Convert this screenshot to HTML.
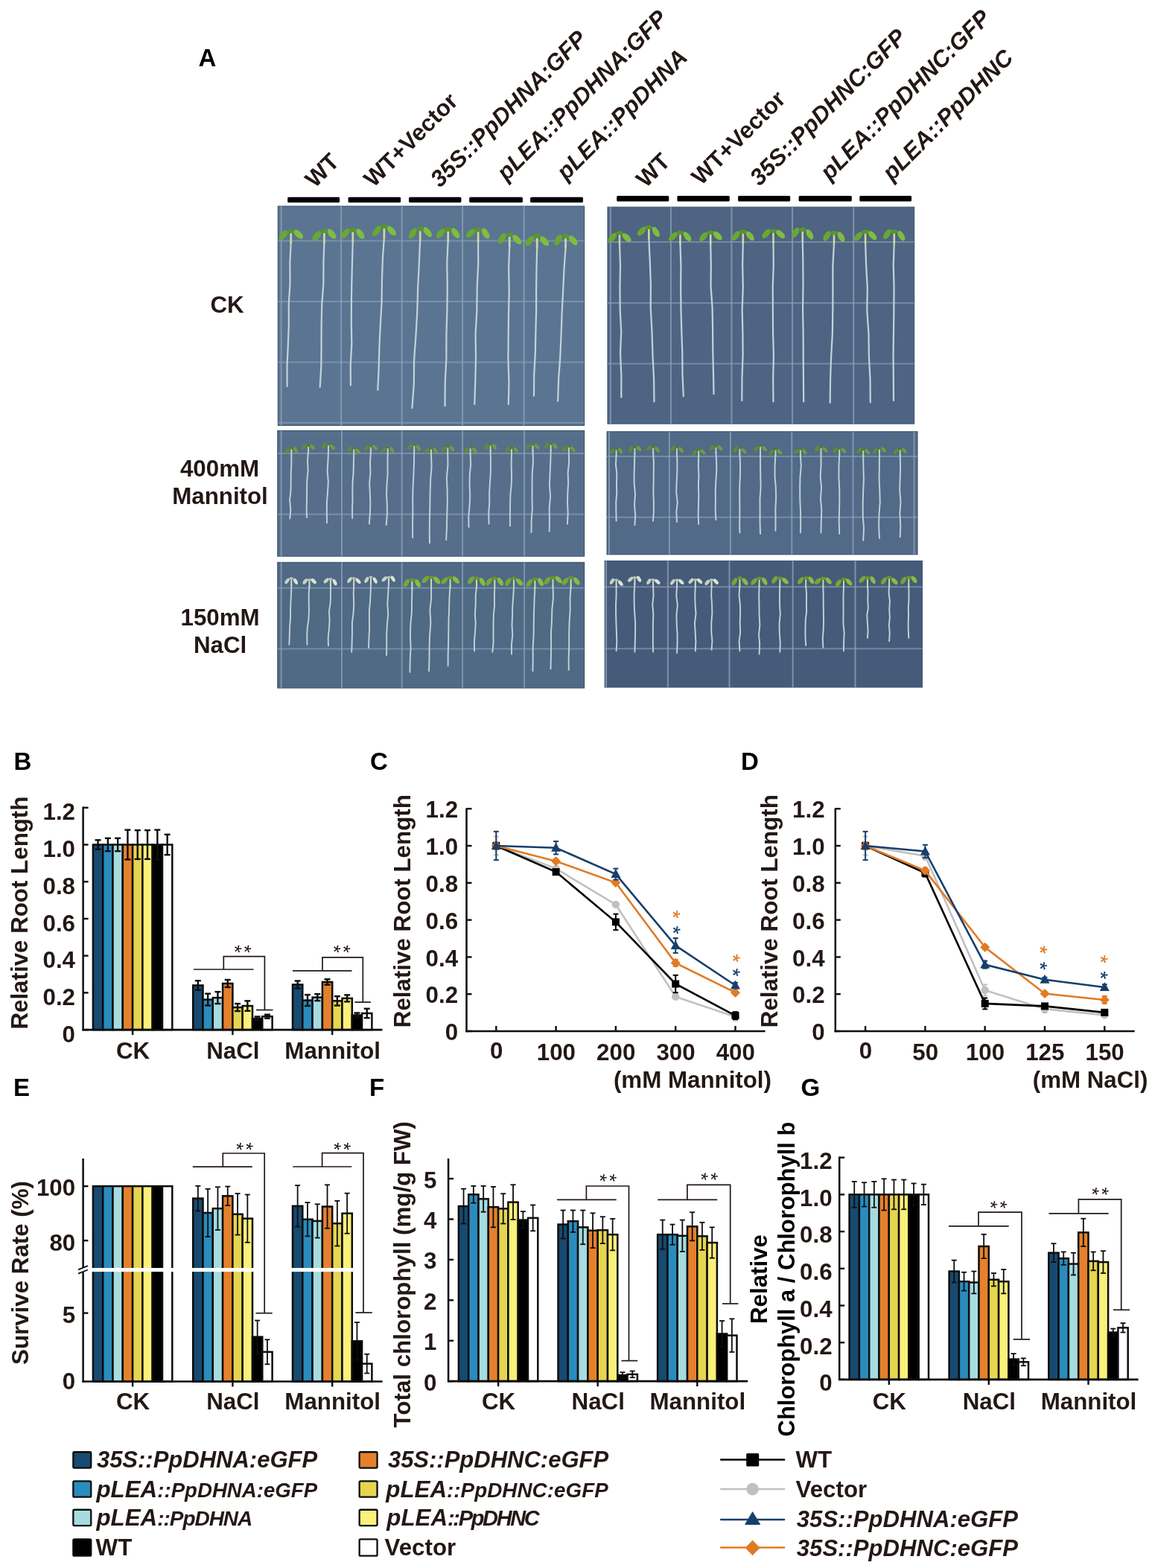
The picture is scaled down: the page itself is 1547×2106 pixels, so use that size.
<!DOCTYPE html><html><head><meta charset="utf-8"><title>Figure</title><style>html,body{margin:0;padding:0;background:#fff}svg{display:block}</style></head><body>
<svg width="1547" height="2106" viewBox="0 0 1547 2106" font-family="'Liberation Sans', Arial, sans-serif" font-weight="bold">
<rect width="1547" height="2106" fill="#ffffff"/>
<text x="266.5" y="88.8" font-size="33" text-anchor="start" fill="#000" >A</text>
<text x="422.8" y="253.5" font-size="31.3" text-anchor="start" fill="#231815" transform="rotate(-45 422.8 253.5)">WT</text>
<text x="501.6" y="252.8" font-size="31.3" text-anchor="start" fill="#231815" transform="rotate(-45 501.6 252.8)">WT+Vector</text>
<text x="590.7" y="253.1" font-size="31.3" text-anchor="start" font-style="italic" fill="#231815" transform="rotate(-45 590.7 253.1)">35S::PpDHNA:GFP</text>
<text x="680.1" y="244.2" font-size="31.3" text-anchor="start" font-style="italic" fill="#231815" transform="rotate(-45 680.1 244.2)">pLEA::PpDHNA:GFP</text>
<text x="760.3" y="243.5" font-size="31.3" text-anchor="start" font-style="italic" fill="#231815" transform="rotate(-45 760.3 243.5)">pLEA::PpDHNA</text>
<text x="867.3" y="253.2" font-size="31.3" text-anchor="start" fill="#231815" transform="rotate(-45 867.3 253.2)">WT</text>
<text x="941.6" y="249.9" font-size="31.3" text-anchor="start" fill="#231815" transform="rotate(-45 941.6 249.9)">WT+Vector</text>
<text x="1019.7" y="250.9" font-size="31.3" text-anchor="start" font-style="italic" fill="#231815" transform="rotate(-45 1019.7 250.9)">35S::PpDHNC:GFP</text>
<text x="1114.3" y="243.5" font-size="31.3" text-anchor="start" font-style="italic" fill="#231815" transform="rotate(-45 1114.3 243.5)">pLEA::PpDHNC:GFP</text>
<text x="1197.7" y="244.2" font-size="31.3" text-anchor="start" font-style="italic" fill="#231815" transform="rotate(-45 1197.7 244.2)">pLEA::PpDHNC</text>
<rect x="386.2" y="264.7" width="69.9" height="7.3" rx="1.5" fill="#000"/>
<rect x="467.6" y="264.7" width="70.5" height="7.3" rx="1.5" fill="#000"/>
<rect x="549.1" y="264.7" width="70.3" height="7.3" rx="1.5" fill="#000"/>
<rect x="630.2" y="264.7" width="71.7" height="7.3" rx="1.5" fill="#000"/>
<rect x="712.1" y="264.7" width="70.8" height="7.3" rx="1.5" fill="#000"/>
<rect x="828.2" y="263.1" width="70.1" height="7.3" rx="1.5" fill="#000"/>
<rect x="909.4" y="263.1" width="70.4" height="7.3" rx="1.5" fill="#000"/>
<rect x="991.1" y="263.1" width="70.1" height="7.3" rx="1.5" fill="#000"/>
<rect x="1072.6" y="263.1" width="71.2" height="7.3" rx="1.5" fill="#000"/>
<rect x="1154.3" y="263.1" width="69.8" height="7.3" rx="1.5" fill="#000"/>
<text x="305" y="420" font-size="31.3" text-anchor="middle" fill="#231815" >CK</text>
<text x="295" y="640.2" font-size="31.3" text-anchor="middle" fill="#231815" >400mM</text>
<text x="295.5" y="677.3" font-size="31.3" text-anchor="middle" fill="#231815" >Mannitol</text>
<text x="295.6" y="839.5" font-size="31.3" text-anchor="middle" fill="#231815" >150mM</text>
<text x="295.6" y="876.7" font-size="31.3" text-anchor="middle" fill="#231815" >NaCl</text>
<rect x="373.4" y="277" width="411.2" height="294.4" fill="#5b7491" stroke="#3f5876" stroke-width="1.2"/>
<line x1="377.6" y1="277" x2="377.6" y2="571.4" stroke="#8ea3ba" stroke-width="2.0" opacity="0.75"/>
<line x1="458.1" y1="277" x2="458.1" y2="571.4" stroke="#8ea3ba" stroke-width="2.0" opacity="0.75"/>
<line x1="539.7" y1="277" x2="539.7" y2="571.4" stroke="#8ea3ba" stroke-width="2.0" opacity="0.75"/>
<line x1="621.1" y1="277" x2="621.1" y2="571.4" stroke="#8ea3ba" stroke-width="2.0" opacity="0.75"/>
<line x1="703.6" y1="277" x2="703.6" y2="571.4" stroke="#8ea3ba" stroke-width="2.0" opacity="0.75"/>
<line x1="373.4" y1="323.4" x2="784.6" y2="323.4" stroke="#8ea3ba" stroke-width="2.0" opacity="0.6"/>
<line x1="373.4" y1="405" x2="784.6" y2="405" stroke="#8ea3ba" stroke-width="2.0" opacity="0.6"/>
<line x1="373.4" y1="486.6" x2="784.6" y2="486.6" stroke="#8ea3ba" stroke-width="2.0" opacity="0.6"/>
<line x1="373.4" y1="567.7" x2="784.6" y2="567.7" stroke="#8ea3ba" stroke-width="2.0" opacity="0.6"/>
<path d="M390.7,325.35 L389.34,352.98 L389.51,380.62 L387.74,408.26 L387.85,435.89 L386.82,463.53 L385.53,491.16 L385.6,518.8" fill="none" stroke="#c4d2dc" stroke-width="2.2" stroke-linecap="round" stroke-linejoin="round"/>
<line x1="390.7" y1="310.65" x2="390.7" y2="326.35" stroke="#cad99c" stroke-width="2.73" stroke-linecap="round"/>
<ellipse cx="380.72" cy="315.7" rx="7.88" ry="3.99" fill="#68a832" transform="rotate(-51.85 380.72 315.7)"/>
<ellipse cx="400.68" cy="314.61" rx="7.88" ry="3.99" fill="#80bd3f" transform="rotate(42.75 400.68 314.61)"/>
<ellipse cx="390.7" cy="310.65" rx="4.73" ry="2.94" fill="#5a962b"/>
<path d="M435.4,324.88 L434.45,352.7 L434.36,380.52 L432.28,408.33 L431.64,436.15 L431.56,463.97 L431.32,491.78 L429.7,519.6" fill="none" stroke="#c4d2dc" stroke-width="2.2" stroke-linecap="round" stroke-linejoin="round"/>
<line x1="435.4" y1="310.18" x2="435.4" y2="325.88" stroke="#cad99c" stroke-width="2.73" stroke-linecap="round"/>
<ellipse cx="425.42" cy="316.86" rx="7.88" ry="3.99" fill="#68a832" transform="rotate(-50.46 425.42 316.86)"/>
<ellipse cx="445.38" cy="314.07" rx="7.88" ry="3.99" fill="#80bd3f" transform="rotate(49.93 445.38 314.07)"/>
<ellipse cx="435.4" cy="310.18" rx="4.73" ry="2.94" fill="#5a962b"/>
<path d="M473.8,323.42 L473.01,351.13 L472.33,378.84 L471.87,406.55 L471.8,434.26 L472.3,461.98 L470.74,489.69 L470.9,517.4" fill="none" stroke="#c4d2dc" stroke-width="2.2" stroke-linecap="round" stroke-linejoin="round"/>
<line x1="473.8" y1="308.72" x2="473.8" y2="324.42" stroke="#cad99c" stroke-width="2.73" stroke-linecap="round"/>
<ellipse cx="463.82" cy="313.58" rx="7.88" ry="3.99" fill="#68a832" transform="rotate(-50.37 463.82 313.58)"/>
<ellipse cx="483.78" cy="314.11" rx="7.88" ry="3.99" fill="#80bd3f" transform="rotate(54.78 483.78 314.11)"/>
<ellipse cx="473.8" cy="308.72" rx="4.73" ry="2.94" fill="#5a962b"/>
<path d="M515.9,318.83 L513.88,348.08 L512.91,377.33 L512.54,406.59 L510.86,435.84 L509.42,465.09 L508.68,494.35 L507.3,523.6" fill="none" stroke="#c4d2dc" stroke-width="2.2" stroke-linecap="round" stroke-linejoin="round"/>
<line x1="515.9" y1="304.13" x2="515.9" y2="319.83" stroke="#cad99c" stroke-width="2.73" stroke-linecap="round"/>
<ellipse cx="505.92" cy="310.26" rx="7.88" ry="3.99" fill="#68a832" transform="rotate(-52.94 505.92 310.26)"/>
<ellipse cx="525.88" cy="309.97" rx="7.88" ry="3.99" fill="#80bd3f" transform="rotate(48 525.88 309.97)"/>
<ellipse cx="515.9" cy="304.13" rx="4.73" ry="2.94" fill="#5a962b"/>
<path d="M564.2,322.19 L562.79,354.45 L561.16,386.71 L560.25,418.96 L558.44,451.22 L556.1,483.48 L555.81,515.74 L553.4,548" fill="none" stroke="#c4d2dc" stroke-width="2.2" stroke-linecap="round" stroke-linejoin="round"/>
<line x1="564.2" y1="307.49" x2="564.2" y2="323.19" stroke="#cad99c" stroke-width="2.73" stroke-linecap="round"/>
<ellipse cx="554.23" cy="313.51" rx="7.88" ry="3.99" fill="#68a832" transform="rotate(-59.64 554.23 313.51)"/>
<ellipse cx="574.18" cy="311.69" rx="7.88" ry="3.99" fill="#80bd3f" transform="rotate(50.36 574.18 311.69)"/>
<ellipse cx="564.2" cy="307.49" rx="4.73" ry="2.94" fill="#5a962b"/>
<path d="M601.7,322.68 L600.27,354.47 L600.8,386.26 L600.38,418.04 L599.43,449.83 L599.38,481.62 L597.76,513.41 L597.5,545.2" fill="none" stroke="#c4d2dc" stroke-width="2.2" stroke-linecap="round" stroke-linejoin="round"/>
<line x1="601.7" y1="307.98" x2="601.7" y2="323.68" stroke="#cad99c" stroke-width="2.73" stroke-linecap="round"/>
<ellipse cx="591.73" cy="313.47" rx="7.88" ry="3.99" fill="#68a832" transform="rotate(-48.09 591.73 313.47)"/>
<ellipse cx="611.68" cy="313.1" rx="7.88" ry="3.99" fill="#80bd3f" transform="rotate(53.89 611.68 313.1)"/>
<ellipse cx="601.7" cy="307.98" rx="4.73" ry="2.94" fill="#5a962b"/>
<path d="M642.1,323.38 L642.21,354.75 L640.68,386.13 L640.34,417.5 L638.57,448.88 L639.03,480.25 L638.25,511.63 L637.3,543" fill="none" stroke="#c4d2dc" stroke-width="2.2" stroke-linecap="round" stroke-linejoin="round"/>
<line x1="642.1" y1="308.68" x2="642.1" y2="324.38" stroke="#cad99c" stroke-width="2.73" stroke-linecap="round"/>
<ellipse cx="632.12" cy="313.28" rx="7.88" ry="3.99" fill="#68a832" transform="rotate(-42.14 632.12 313.28)"/>
<ellipse cx="652.08" cy="313.59" rx="7.88" ry="3.99" fill="#80bd3f" transform="rotate(58.44 652.08 313.59)"/>
<ellipse cx="642.1" cy="308.68" rx="4.73" ry="2.94" fill="#5a962b"/>
<path d="M684.2,330.04 L683.14,360.46 L683.73,390.88 L683,421.31 L682.71,451.73 L682.41,482.15 L683.48,512.58 L682.8,543" fill="none" stroke="#c4d2dc" stroke-width="2.2" stroke-linecap="round" stroke-linejoin="round"/>
<line x1="684.2" y1="315.34" x2="684.2" y2="331.04" stroke="#cad99c" stroke-width="2.73" stroke-linecap="round"/>
<ellipse cx="674.23" cy="320.26" rx="7.88" ry="3.99" fill="#68a832" transform="rotate(-59.41 674.23 320.26)"/>
<ellipse cx="694.18" cy="321.7" rx="7.88" ry="3.99" fill="#80bd3f" transform="rotate(46.95 694.18 321.7)"/>
<ellipse cx="684.2" cy="315.34" rx="4.73" ry="2.94" fill="#5a962b"/>
<path d="M721.2,331.86 L720.51,360.4 L720.09,388.93 L720.09,417.46 L719.37,446 L718.86,474.53 L717.2,503.07 L717,531.6" fill="none" stroke="#c4d2dc" stroke-width="2.2" stroke-linecap="round" stroke-linejoin="round"/>
<line x1="721.2" y1="317.16" x2="721.2" y2="332.86" stroke="#cad99c" stroke-width="2.73" stroke-linecap="round"/>
<ellipse cx="711.23" cy="323.56" rx="7.88" ry="3.99" fill="#68a832" transform="rotate(-53.69 711.23 323.56)"/>
<ellipse cx="731.18" cy="323.78" rx="7.88" ry="3.99" fill="#80bd3f" transform="rotate(49.18 731.18 323.78)"/>
<ellipse cx="721.2" cy="317.16" rx="4.73" ry="2.94" fill="#5a962b"/>
<path d="M759.6,332 L757.52,361.53 L756.12,391.06 L754.62,420.59 L753.57,450.12 L752.26,479.64 L750.17,509.17 L749.1,538.7" fill="none" stroke="#c4d2dc" stroke-width="2.2" stroke-linecap="round" stroke-linejoin="round"/>
<line x1="759.6" y1="317.3" x2="759.6" y2="333" stroke="#cad99c" stroke-width="2.73" stroke-linecap="round"/>
<ellipse cx="749.62" cy="322.16" rx="7.88" ry="3.99" fill="#68a832" transform="rotate(-61.92 749.62 322.16)"/>
<ellipse cx="769.58" cy="322.75" rx="7.88" ry="3.99" fill="#80bd3f" transform="rotate(50.38 769.58 322.75)"/>
<ellipse cx="759.6" cy="317.3" rx="4.73" ry="2.94" fill="#5a962b"/>
<rect x="372.8" y="578.5" width="411.8" height="168.6" fill="#576e8b" stroke="#3f5876" stroke-width="1.2"/>
<line x1="377.6" y1="578.5" x2="377.6" y2="747.1" stroke="#8ea3ba" stroke-width="2.0" opacity="0.75"/>
<line x1="459" y1="578.5" x2="459" y2="747.1" stroke="#8ea3ba" stroke-width="2.0" opacity="0.75"/>
<line x1="539.7" y1="578.5" x2="539.7" y2="747.1" stroke="#8ea3ba" stroke-width="2.0" opacity="0.75"/>
<line x1="621.1" y1="578.5" x2="621.1" y2="747.1" stroke="#8ea3ba" stroke-width="2.0" opacity="0.75"/>
<line x1="704.1" y1="578.5" x2="704.1" y2="747.1" stroke="#8ea3ba" stroke-width="2.0" opacity="0.75"/>
<line x1="372.8" y1="608.9" x2="784.6" y2="608.9" stroke="#8ea3ba" stroke-width="2.0" opacity="0.6"/>
<line x1="372.8" y1="690.8" x2="784.6" y2="690.8" stroke="#8ea3ba" stroke-width="2.0" opacity="0.6"/>
<path d="M391.3,609.84 L391.36,622.22 L390.76,634.6 L390.65,646.98 L390.47,659.36 L389.07,671.74 L390.3,684.12 L389.3,696.5" fill="none" stroke="#c4d2dc" stroke-width="1.9" stroke-linecap="round" stroke-linejoin="round"/>
<line x1="391.3" y1="601.72" x2="391.3" y2="610.84" stroke="#c2d2ae" stroke-width="2" stroke-linecap="round"/>
<ellipse cx="385.79" cy="605.51" rx="4.35" ry="2.2" fill="#5a8f30" transform="rotate(-46.4 385.79 605.51)"/>
<ellipse cx="396.81" cy="604.3" rx="4.35" ry="2.2" fill="#6e9f3a" transform="rotate(59.49 396.81 604.3)"/>
<ellipse cx="391.3" cy="601.72" rx="2.61" ry="1.62" fill="#4f7f2a"/>
<path d="M414,606.51 L413,619.15 L413.67,631.8 L412.35,644.44 L412.08,657.08 L412.05,669.72 L411.68,682.36 L412,695" fill="none" stroke="#c4d2dc" stroke-width="1.9" stroke-linecap="round" stroke-linejoin="round"/>
<line x1="414" y1="598.39" x2="414" y2="607.51" stroke="#c2d2ae" stroke-width="2" stroke-linecap="round"/>
<ellipse cx="408.49" cy="599.79" rx="4.35" ry="2.2" fill="#5a8f30" transform="rotate(-55.2 408.49 599.79)"/>
<ellipse cx="419.51" cy="600.25" rx="4.35" ry="2.2" fill="#6e9f3a" transform="rotate(43.05 419.51 600.25)"/>
<ellipse cx="414" cy="598.39" rx="2.61" ry="1.62" fill="#4f7f2a"/>
<path d="M441,604.73 L440.47,618.65 L439.57,632.58 L440.82,646.5 L440.06,660.43 L438.94,674.35 L438.84,688.28 L439,702.2" fill="none" stroke="#c4d2dc" stroke-width="1.9" stroke-linecap="round" stroke-linejoin="round"/>
<line x1="441" y1="596.61" x2="441" y2="605.73" stroke="#c2d2ae" stroke-width="2" stroke-linecap="round"/>
<ellipse cx="435.49" cy="598.38" rx="4.35" ry="2.2" fill="#5a8f30" transform="rotate(-55.05 435.49 598.38)"/>
<ellipse cx="446.51" cy="600.56" rx="4.35" ry="2.2" fill="#6e9f3a" transform="rotate(49.28 446.51 600.56)"/>
<ellipse cx="441" cy="596.61" rx="2.61" ry="1.62" fill="#4f7f2a"/>
<path d="M475.2,610.08 L474.85,622.35 L474.6,634.63 L473.6,646.9 L473.34,659.18 L473.49,671.45 L473.06,683.73 L473.2,696" fill="none" stroke="#c4d2dc" stroke-width="1.9" stroke-linecap="round" stroke-linejoin="round"/>
<line x1="475.2" y1="601.96" x2="475.2" y2="611.08" stroke="#c2d2ae" stroke-width="2" stroke-linecap="round"/>
<ellipse cx="469.69" cy="603.43" rx="4.35" ry="2.2" fill="#5a8f30" transform="rotate(-45.42 469.69 603.43)"/>
<ellipse cx="480.71" cy="606.21" rx="4.35" ry="2.2" fill="#6e9f3a" transform="rotate(45.23 480.71 606.21)"/>
<ellipse cx="475.2" cy="601.96" rx="2.61" ry="1.62" fill="#4f7f2a"/>
<path d="M497.9,607.29 L496.98,621.05 L497.41,634.81 L496.19,648.57 L496.81,662.32 L497.33,676.08 L496.84,689.84 L495.9,703.6" fill="none" stroke="#c4d2dc" stroke-width="1.9" stroke-linecap="round" stroke-linejoin="round"/>
<line x1="497.9" y1="599.17" x2="497.9" y2="608.29" stroke="#c2d2ae" stroke-width="2" stroke-linecap="round"/>
<ellipse cx="492.39" cy="601.67" rx="4.35" ry="2.2" fill="#5a8f30" transform="rotate(-48.08 492.39 601.67)"/>
<ellipse cx="503.41" cy="601.07" rx="4.35" ry="2.2" fill="#6e9f3a" transform="rotate(47.22 503.41 601.07)"/>
<ellipse cx="497.9" cy="599.17" rx="2.61" ry="1.62" fill="#4f7f2a"/>
<path d="M520.7,608.75 L520.47,622.5 L520.63,636.25 L519.54,650 L519.06,663.75 L519.83,677.5 L519.86,691.25 L518.7,705" fill="none" stroke="#c4d2dc" stroke-width="1.9" stroke-linecap="round" stroke-linejoin="round"/>
<line x1="520.7" y1="600.63" x2="520.7" y2="609.75" stroke="#c2d2ae" stroke-width="2" stroke-linecap="round"/>
<ellipse cx="515.19" cy="604.49" rx="4.35" ry="2.2" fill="#5a8f30" transform="rotate(-44.95 515.19 604.49)"/>
<ellipse cx="526.21" cy="604.25" rx="4.35" ry="2.2" fill="#6e9f3a" transform="rotate(58.12 526.21 604.25)"/>
<ellipse cx="520.7" cy="600.63" rx="2.61" ry="1.62" fill="#4f7f2a"/>
<path d="M556.2,605.48 L555.95,622.14 L555.37,638.8 L554.5,655.46 L554.21,672.12 L554.37,688.78 L554.05,705.44 L554.2,722.1" fill="none" stroke="#c4d2dc" stroke-width="1.9" stroke-linecap="round" stroke-linejoin="round"/>
<line x1="556.2" y1="597.36" x2="556.2" y2="606.48" stroke="#c2d2ae" stroke-width="2" stroke-linecap="round"/>
<ellipse cx="550.69" cy="600.1" rx="4.35" ry="2.2" fill="#5a8f30" transform="rotate(-48.15 550.69 600.1)"/>
<ellipse cx="561.71" cy="601.57" rx="4.35" ry="2.2" fill="#6e9f3a" transform="rotate(61.13 561.71 601.57)"/>
<ellipse cx="556.2" cy="597.36" rx="2.61" ry="1.62" fill="#4f7f2a"/>
<path d="M579,610.05 L579.53,627.07 L578.18,644.09 L577.64,661.11 L577.37,678.13 L577.03,695.16 L576.75,712.18 L577,729.2" fill="none" stroke="#c4d2dc" stroke-width="1.9" stroke-linecap="round" stroke-linejoin="round"/>
<line x1="579" y1="601.93" x2="579" y2="611.05" stroke="#c2d2ae" stroke-width="2" stroke-linecap="round"/>
<ellipse cx="573.49" cy="605.85" rx="4.35" ry="2.2" fill="#5a8f30" transform="rotate(-49.52 573.49 605.85)"/>
<ellipse cx="584.51" cy="604.77" rx="4.35" ry="2.2" fill="#6e9f3a" transform="rotate(60.01 584.51 604.77)"/>
<ellipse cx="579" cy="601.93" rx="2.61" ry="1.62" fill="#4f7f2a"/>
<path d="M601.2,608.04 L601.45,624.75 L599.88,641.46 L600.63,658.16 L600.79,674.87 L600.28,691.58 L599.94,708.29 L599.2,725" fill="none" stroke="#c4d2dc" stroke-width="1.9" stroke-linecap="round" stroke-linejoin="round"/>
<line x1="601.2" y1="599.92" x2="601.2" y2="609.04" stroke="#c2d2ae" stroke-width="2" stroke-linecap="round"/>
<ellipse cx="595.69" cy="603.69" rx="4.35" ry="2.2" fill="#5a8f30" transform="rotate(-52.44 595.69 603.69)"/>
<ellipse cx="606.71" cy="602.32" rx="4.35" ry="2.2" fill="#6e9f3a" transform="rotate(45.57 606.71 602.32)"/>
<ellipse cx="601.2" cy="599.92" rx="2.61" ry="1.62" fill="#4f7f2a"/>
<path d="M631.6,608.92 L632.16,623.06 L630.84,637.2 L630.57,651.34 L631.26,665.48 L630.58,679.62 L629.29,693.76 L629.6,707.9" fill="none" stroke="#c4d2dc" stroke-width="1.9" stroke-linecap="round" stroke-linejoin="round"/>
<line x1="631.6" y1="600.8" x2="631.6" y2="609.92" stroke="#c2d2ae" stroke-width="2" stroke-linecap="round"/>
<ellipse cx="626.09" cy="604.92" rx="4.35" ry="2.2" fill="#5a8f30" transform="rotate(-59.46 626.09 604.92)"/>
<ellipse cx="637.11" cy="604.62" rx="4.35" ry="2.2" fill="#6e9f3a" transform="rotate(45.02 637.11 604.62)"/>
<ellipse cx="631.6" cy="600.8" rx="2.61" ry="1.62" fill="#4f7f2a"/>
<path d="M658.6,605 L658.9,619.08 L658.89,633.17 L658.03,647.26 L657.19,661.34 L657.26,675.43 L656.22,689.51 L656.6,703.6" fill="none" stroke="#c4d2dc" stroke-width="1.9" stroke-linecap="round" stroke-linejoin="round"/>
<line x1="658.6" y1="596.88" x2="658.6" y2="606" stroke="#c2d2ae" stroke-width="2" stroke-linecap="round"/>
<ellipse cx="653.09" cy="600.23" rx="4.35" ry="2.2" fill="#5a8f30" transform="rotate(-61.72 653.09 600.23)"/>
<ellipse cx="664.11" cy="599.86" rx="4.35" ry="2.2" fill="#6e9f3a" transform="rotate(61.42 664.11 599.86)"/>
<ellipse cx="658.6" cy="596.88" rx="2.61" ry="1.62" fill="#4f7f2a"/>
<path d="M687,609.72 L686.6,623.55 L687.1,637.37 L686.73,651.2 L685.34,665.02 L685.12,678.85 L684.91,692.67 L685,706.5" fill="none" stroke="#c4d2dc" stroke-width="1.9" stroke-linecap="round" stroke-linejoin="round"/>
<line x1="687" y1="601.6" x2="687" y2="610.72" stroke="#c2d2ae" stroke-width="2" stroke-linecap="round"/>
<ellipse cx="681.49" cy="603.78" rx="4.35" ry="2.2" fill="#5a8f30" transform="rotate(-57.19 681.49 603.78)"/>
<ellipse cx="692.51" cy="604.26" rx="4.35" ry="2.2" fill="#6e9f3a" transform="rotate(53.73 692.51 604.26)"/>
<ellipse cx="687" cy="601.6" rx="2.61" ry="1.62" fill="#4f7f2a"/>
<path d="M715.5,604.91 L715.95,620.63 L714.67,636.36 L714.57,652.09 L714.51,667.82 L714.8,683.54 L713.64,699.27 L713.5,715" fill="none" stroke="#c4d2dc" stroke-width="1.9" stroke-linecap="round" stroke-linejoin="round"/>
<line x1="715.5" y1="596.79" x2="715.5" y2="605.91" stroke="#c2d2ae" stroke-width="2" stroke-linecap="round"/>
<ellipse cx="709.99" cy="599.78" rx="4.35" ry="2.2" fill="#5a8f30" transform="rotate(-43.65 709.99 599.78)"/>
<ellipse cx="721.01" cy="599.76" rx="4.35" ry="2.2" fill="#6e9f3a" transform="rotate(52.03 721.01 599.76)"/>
<ellipse cx="715.5" cy="596.79" rx="2.61" ry="1.62" fill="#4f7f2a"/>
<path d="M739.7,604.23 L739.31,619.86 L738.56,635.48 L737.95,651.1 L739.1,666.73 L737.68,682.35 L737.94,697.98 L737.7,713.6" fill="none" stroke="#c4d2dc" stroke-width="1.9" stroke-linecap="round" stroke-linejoin="round"/>
<line x1="739.7" y1="596.11" x2="739.7" y2="605.23" stroke="#c2d2ae" stroke-width="2" stroke-linecap="round"/>
<ellipse cx="734.19" cy="598.49" rx="4.35" ry="2.2" fill="#5a8f30" transform="rotate(-47.5 734.19 598.49)"/>
<ellipse cx="745.21" cy="599.07" rx="4.35" ry="2.2" fill="#6e9f3a" transform="rotate(53.13 745.21 599.07)"/>
<ellipse cx="739.7" cy="596.11" rx="2.61" ry="1.62" fill="#4f7f2a"/>
<path d="M763.9,607.45 L764.13,621.19 L762.62,634.92 L763.15,648.66 L762.3,662.39 L762.07,676.13 L762.68,689.86 L761.9,703.6" fill="none" stroke="#c4d2dc" stroke-width="1.9" stroke-linecap="round" stroke-linejoin="round"/>
<line x1="763.9" y1="599.33" x2="763.9" y2="608.45" stroke="#c2d2ae" stroke-width="2" stroke-linecap="round"/>
<ellipse cx="758.39" cy="603.01" rx="4.35" ry="2.2" fill="#5a8f30" transform="rotate(-51.85 758.39 603.01)"/>
<ellipse cx="769.41" cy="603.47" rx="4.35" ry="2.2" fill="#6e9f3a" transform="rotate(53.23 769.41 603.47)"/>
<ellipse cx="763.9" cy="599.33" rx="2.61" ry="1.62" fill="#4f7f2a"/>
<rect x="372.8" y="755.4" width="411.8" height="168.6" fill="#506984" stroke="#3f5876" stroke-width="1.2"/>
<line x1="377.6" y1="755.4" x2="377.6" y2="924" stroke="#8ea3ba" stroke-width="2.0" opacity="0.75"/>
<line x1="459" y1="755.4" x2="459" y2="924" stroke="#8ea3ba" stroke-width="2.0" opacity="0.75"/>
<line x1="539.7" y1="755.4" x2="539.7" y2="924" stroke="#8ea3ba" stroke-width="2.0" opacity="0.75"/>
<line x1="621.1" y1="755.4" x2="621.1" y2="924" stroke="#8ea3ba" stroke-width="2.0" opacity="0.75"/>
<line x1="704.1" y1="755.4" x2="704.1" y2="924" stroke="#8ea3ba" stroke-width="2.0" opacity="0.75"/>
<line x1="372.8" y1="789.8" x2="784.6" y2="789.8" stroke="#8ea3ba" stroke-width="2.0" opacity="0.6"/>
<line x1="372.8" y1="871.4" x2="784.6" y2="871.4" stroke="#8ea3ba" stroke-width="2.0" opacity="0.6"/>
<path d="M391.3,785.17 L391.07,796.68 L390.45,808.18 L390.04,819.68 L389.93,831.19 L389.07,842.69 L388.79,854.2 L388.3,865.7" fill="none" stroke="#c4d2dc" stroke-width="1.9" stroke-linecap="round" stroke-linejoin="round"/>
<line x1="391.3" y1="776.77" x2="391.3" y2="786.17" stroke="#d3dacd" stroke-width="2" stroke-linecap="round"/>
<ellipse cx="385.6" cy="780.37" rx="4.5" ry="2.28" fill="#c9d3c4" transform="rotate(-52.44 385.6 780.37)"/>
<ellipse cx="397" cy="780.9" rx="4.5" ry="2.28" fill="#dde3d6" transform="rotate(60.83 397 780.9)"/>
<ellipse cx="391.3" cy="776.77" rx="2.7" ry="1.68" fill="#b9c3b2"/>
<path d="M415.5,787.17 L414.64,798.39 L414.75,809.61 L415.01,820.82 L414.4,832.04 L412.7,843.26 L412.25,854.48 L412.5,865.7" fill="none" stroke="#c4d2dc" stroke-width="1.9" stroke-linecap="round" stroke-linejoin="round"/>
<line x1="415.5" y1="778.77" x2="415.5" y2="788.17" stroke="#d3dacd" stroke-width="2" stroke-linecap="round"/>
<ellipse cx="409.8" cy="780.99" rx="4.5" ry="2.28" fill="#c9d3c4" transform="rotate(-53.16 409.8 780.99)"/>
<ellipse cx="421.2" cy="780.49" rx="4.5" ry="2.28" fill="#dde3d6" transform="rotate(43.45 421.2 780.49)"/>
<ellipse cx="415.5" cy="778.77" rx="2.7" ry="1.68" fill="#b9c3b2"/>
<path d="M443.9,786.08 L443.98,797.67 L443.76,809.26 L441.99,820.84 L442.57,832.43 L442.05,844.02 L440.69,855.61 L440.9,867.2" fill="none" stroke="#c4d2dc" stroke-width="1.9" stroke-linecap="round" stroke-linejoin="round"/>
<line x1="443.9" y1="777.68" x2="443.9" y2="787.08" stroke="#d3dacd" stroke-width="2" stroke-linecap="round"/>
<ellipse cx="438.2" cy="779.84" rx="4.5" ry="2.28" fill="#c9d3c4" transform="rotate(-44.34 438.2 779.84)"/>
<ellipse cx="449.6" cy="782.04" rx="4.5" ry="2.28" fill="#dde3d6" transform="rotate(61.35 449.6 782.04)"/>
<ellipse cx="443.9" cy="777.68" rx="2.7" ry="1.68" fill="#b9c3b2"/>
<path d="M475.2,784.99 L474.75,797.95 L475.22,810.91 L474.51,823.87 L472.88,836.83 L472.93,849.78 L472.66,862.74 L472.2,875.7" fill="none" stroke="#c4d2dc" stroke-width="1.9" stroke-linecap="round" stroke-linejoin="round"/>
<line x1="475.2" y1="776.59" x2="475.2" y2="785.99" stroke="#d3dacd" stroke-width="2" stroke-linecap="round"/>
<ellipse cx="469.5" cy="779.05" rx="4.5" ry="2.28" fill="#c9d3c4" transform="rotate(-55.22 469.5 779.05)"/>
<ellipse cx="480.9" cy="780.26" rx="4.5" ry="2.28" fill="#dde3d6" transform="rotate(45.91 480.9 780.26)"/>
<ellipse cx="475.2" cy="776.59" rx="2.7" ry="1.68" fill="#b9c3b2"/>
<path d="M498,783.48 L497.67,795.84 L497.04,808.2 L495.85,820.56 L495.98,832.92 L496.08,845.28 L495.45,857.64 L495,870" fill="none" stroke="#c4d2dc" stroke-width="1.9" stroke-linecap="round" stroke-linejoin="round"/>
<line x1="498" y1="775.08" x2="498" y2="784.48" stroke="#d3dacd" stroke-width="2" stroke-linecap="round"/>
<ellipse cx="492.3" cy="778.94" rx="4.5" ry="2.28" fill="#c9d3c4" transform="rotate(-60.71 492.3 778.94)"/>
<ellipse cx="503.7" cy="779.49" rx="4.5" ry="2.28" fill="#dde3d6" transform="rotate(61.7 503.7 779.49)"/>
<ellipse cx="498" cy="775.08" rx="2.7" ry="1.68" fill="#b9c3b2"/>
<path d="M522,783.82 L521.15,797.56 L520.31,811.3 L521.22,825.04 L519.87,838.78 L519.19,852.52 L519.29,866.26 L519,880" fill="none" stroke="#c4d2dc" stroke-width="1.9" stroke-linecap="round" stroke-linejoin="round"/>
<line x1="522" y1="775.42" x2="522" y2="784.82" stroke="#d3dacd" stroke-width="2" stroke-linecap="round"/>
<ellipse cx="516.3" cy="777.69" rx="4.5" ry="2.28" fill="#c9d3c4" transform="rotate(-43.77 516.3 777.69)"/>
<ellipse cx="527.7" cy="777.37" rx="4.5" ry="2.28" fill="#dde3d6" transform="rotate(58.38 527.7 777.37)"/>
<ellipse cx="522" cy="775.42" rx="2.7" ry="1.68" fill="#b9c3b2"/>
<path d="M553.4,789.88 L553.1,805.99 L552.9,822.11 L551.38,838.23 L550.89,854.35 L551.6,870.46 L550.69,886.58 L550.4,902.7" fill="none" stroke="#c4d2dc" stroke-width="1.9" stroke-linecap="round" stroke-linejoin="round"/>
<line x1="553.4" y1="778.68" x2="553.4" y2="790.88" stroke="#cad99c" stroke-width="2.08" stroke-linecap="round"/>
<ellipse cx="545.8" cy="783.08" rx="6" ry="3.04" fill="#74a838" transform="rotate(-60.55 545.8 783.08)"/>
<ellipse cx="561" cy="783.58" rx="6" ry="3.04" fill="#88bb44" transform="rotate(60.77 561 783.58)"/>
<ellipse cx="553.4" cy="778.68" rx="3.6" ry="2.24" fill="#66962f"/>
<path d="M579,786.53 L579.21,802.93 L577.36,819.32 L578.37,835.72 L577.2,852.11 L576.57,868.51 L576.52,884.9 L576,901.3" fill="none" stroke="#c4d2dc" stroke-width="1.9" stroke-linecap="round" stroke-linejoin="round"/>
<line x1="579" y1="775.33" x2="579" y2="787.53" stroke="#cad99c" stroke-width="2.08" stroke-linecap="round"/>
<ellipse cx="571.4" cy="778.22" rx="6" ry="3.04" fill="#74a838" transform="rotate(-43.47 571.4 778.22)"/>
<ellipse cx="586.6" cy="779.42" rx="6" ry="3.04" fill="#88bb44" transform="rotate(47.36 586.6 779.42)"/>
<ellipse cx="579" cy="775.33" rx="3.6" ry="2.24" fill="#66962f"/>
<path d="M604.6,787.15 L603.47,802.45 L603.13,817.74 L602.5,833.03 L602.35,848.32 L602.12,863.62 L601.68,878.91 L601.6,894.2" fill="none" stroke="#c4d2dc" stroke-width="1.9" stroke-linecap="round" stroke-linejoin="round"/>
<line x1="604.6" y1="775.95" x2="604.6" y2="788.15" stroke="#cad99c" stroke-width="2.08" stroke-linecap="round"/>
<ellipse cx="597" cy="779.95" rx="6" ry="3.04" fill="#74a838" transform="rotate(-46.81 597 779.95)"/>
<ellipse cx="612.2" cy="778.99" rx="6" ry="3.04" fill="#88bb44" transform="rotate(47.8 612.2 778.99)"/>
<ellipse cx="604.6" cy="775.95" rx="3.6" ry="2.24" fill="#66962f"/>
<path d="M640,787.59 L638.7,799.98 L638.69,812.36 L637.84,824.75 L638.71,837.14 L637.95,849.53 L636.87,861.91 L637,874.3" fill="none" stroke="#c4d2dc" stroke-width="1.9" stroke-linecap="round" stroke-linejoin="round"/>
<line x1="640" y1="776.39" x2="640" y2="788.59" stroke="#cad99c" stroke-width="2.08" stroke-linecap="round"/>
<ellipse cx="632.4" cy="779.21" rx="6" ry="3.04" fill="#74a838" transform="rotate(-52.5 632.4 779.21)"/>
<ellipse cx="647.6" cy="781.34" rx="6" ry="3.04" fill="#88bb44" transform="rotate(60.69 647.6 781.34)"/>
<ellipse cx="640" cy="776.39" rx="3.6" ry="2.24" fill="#66962f"/>
<path d="M664.3,787.93 L663.86,800.47 L664.05,813.01 L662.82,825.54 L662.6,838.08 L662.5,850.62 L662.6,863.16 L661.3,875.7" fill="none" stroke="#c4d2dc" stroke-width="1.9" stroke-linecap="round" stroke-linejoin="round"/>
<line x1="664.3" y1="776.73" x2="664.3" y2="788.93" stroke="#cad99c" stroke-width="2.08" stroke-linecap="round"/>
<ellipse cx="656.7" cy="781.35" rx="6" ry="3.04" fill="#74a838" transform="rotate(-55.15 656.7 781.35)"/>
<ellipse cx="671.9" cy="781.14" rx="6" ry="3.04" fill="#88bb44" transform="rotate(58.65 671.9 781.14)"/>
<ellipse cx="664.3" cy="776.73" rx="3.6" ry="2.24" fill="#66962f"/>
<path d="M690,787.82 L689.3,800.77 L688.34,813.73 L688.05,826.68 L687.51,839.64 L688.29,852.59 L686.99,865.55 L687,878.5" fill="none" stroke="#c4d2dc" stroke-width="1.9" stroke-linecap="round" stroke-linejoin="round"/>
<line x1="690" y1="776.62" x2="690" y2="788.82" stroke="#cad99c" stroke-width="2.08" stroke-linecap="round"/>
<ellipse cx="682.4" cy="781.64" rx="6" ry="3.04" fill="#74a838" transform="rotate(-58.74 682.4 781.64)"/>
<ellipse cx="697.6" cy="781.73" rx="6" ry="3.04" fill="#88bb44" transform="rotate(43.69 697.6 781.73)"/>
<ellipse cx="690" cy="776.62" rx="3.6" ry="2.24" fill="#66962f"/>
<path d="M718.4,788.88 L717.58,804.94 L717.08,821 L716.74,837.06 L716.61,853.12 L715.64,869.18 L715.73,885.24 L715.4,901.3" fill="none" stroke="#c4d2dc" stroke-width="1.9" stroke-linecap="round" stroke-linejoin="round"/>
<line x1="718.4" y1="777.68" x2="718.4" y2="789.88" stroke="#cad99c" stroke-width="2.08" stroke-linecap="round"/>
<ellipse cx="710.8" cy="783.1" rx="6" ry="3.04" fill="#74a838" transform="rotate(-56.74 710.8 783.1)"/>
<ellipse cx="726" cy="781.82" rx="6" ry="3.04" fill="#88bb44" transform="rotate(61.24 726 781.82)"/>
<ellipse cx="718.4" cy="777.68" rx="3.6" ry="2.24" fill="#66962f"/>
<path d="M742.5,787.18 L742.91,803.07 L741.3,818.96 L740.96,834.84 L739.89,850.73 L740.14,866.62 L739.88,882.51 L739.5,898.4" fill="none" stroke="#c4d2dc" stroke-width="1.9" stroke-linecap="round" stroke-linejoin="round"/>
<line x1="742.5" y1="775.98" x2="742.5" y2="788.18" stroke="#cad99c" stroke-width="2.08" stroke-linecap="round"/>
<ellipse cx="734.9" cy="779.99" rx="6" ry="3.04" fill="#74a838" transform="rotate(-51.94 734.9 779.99)"/>
<ellipse cx="750.1" cy="778.49" rx="6" ry="3.04" fill="#88bb44" transform="rotate(46.02 750.1 778.49)"/>
<ellipse cx="742.5" cy="775.98" rx="3.6" ry="2.24" fill="#66962f"/>
<path d="M766.7,787.26 L765.53,803.35 L765.66,819.44 L764.59,835.53 L764.13,851.62 L764.2,867.72 L763.65,883.81 L763.7,899.9" fill="none" stroke="#c4d2dc" stroke-width="1.9" stroke-linecap="round" stroke-linejoin="round"/>
<line x1="766.7" y1="776.06" x2="766.7" y2="788.26" stroke="#cad99c" stroke-width="2.08" stroke-linecap="round"/>
<ellipse cx="759.1" cy="780.81" rx="6" ry="3.04" fill="#74a838" transform="rotate(-50.29 759.1 780.81)"/>
<ellipse cx="774.3" cy="780.53" rx="6" ry="3.04" fill="#88bb44" transform="rotate(52.58 774.3 780.53)"/>
<ellipse cx="766.7" cy="776.06" rx="3.6" ry="2.24" fill="#66962f"/>
<rect x="816" y="278.2" width="411.6" height="290.9" fill="#4e6482" stroke="#3f5876" stroke-width="1.2"/>
<line x1="819.8" y1="278.2" x2="819.8" y2="569.1" stroke="#8ea3ba" stroke-width="2.0" opacity="0.75"/>
<line x1="900.9" y1="278.2" x2="900.9" y2="569.1" stroke="#8ea3ba" stroke-width="2.0" opacity="0.75"/>
<line x1="982.4" y1="278.2" x2="982.4" y2="569.1" stroke="#8ea3ba" stroke-width="2.0" opacity="0.75"/>
<line x1="1064.1" y1="278.2" x2="1064.1" y2="569.1" stroke="#8ea3ba" stroke-width="2.0" opacity="0.75"/>
<line x1="1146.2" y1="278.2" x2="1146.2" y2="569.1" stroke="#8ea3ba" stroke-width="2.0" opacity="0.75"/>
<line x1="816" y1="325" x2="1227.6" y2="325" stroke="#8ea3ba" stroke-width="2.0" opacity="0.6"/>
<line x1="816" y1="407.1" x2="1227.6" y2="407.1" stroke="#8ea3ba" stroke-width="2.0" opacity="0.6"/>
<line x1="816" y1="488.5" x2="1227.6" y2="488.5" stroke="#8ea3ba" stroke-width="2.0" opacity="0.6"/>
<path d="M832,326.93 L833.01,356.46 L832.46,385.98 L832.67,415.5 L834.19,445.03 L833.01,474.55 L834.37,504.08 L834.3,533.6" fill="none" stroke="#c4d2dc" stroke-width="2.2" stroke-linecap="round" stroke-linejoin="round"/>
<line x1="832" y1="312.93" x2="832" y2="327.93" stroke="#cad99c" stroke-width="2.6" stroke-linecap="round"/>
<ellipse cx="822.5" cy="318.94" rx="7.5" ry="3.8" fill="#68a832" transform="rotate(-49.14 822.5 318.94)"/>
<ellipse cx="841.5" cy="319.11" rx="7.5" ry="3.8" fill="#80bd3f" transform="rotate(42.88 841.5 319.11)"/>
<ellipse cx="832" cy="312.93" rx="4.5" ry="2.8" fill="#5a962b"/>
<path d="M871.3,319.25 L872.75,350.7 L873.92,382.15 L873.74,413.6 L875.46,445.05 L876.45,476.5 L878.07,507.95 L878.5,539.4" fill="none" stroke="#c4d2dc" stroke-width="2.2" stroke-linecap="round" stroke-linejoin="round"/>
<line x1="871.3" y1="305.25" x2="871.3" y2="320.25" stroke="#cad99c" stroke-width="2.6" stroke-linecap="round"/>
<ellipse cx="861.8" cy="310.51" rx="7.5" ry="3.8" fill="#68a832" transform="rotate(-45.91 861.8 310.51)"/>
<ellipse cx="880.8" cy="311.43" rx="7.5" ry="3.8" fill="#80bd3f" transform="rotate(58.53 880.8 311.43)"/>
<ellipse cx="871.3" cy="305.25" rx="4.5" ry="2.8" fill="#5a962b"/>
<path d="M913.4,326.37 L914.38,355.77 L914.17,385.18 L914.44,414.58 L915.25,443.99 L916.29,473.39 L916.46,502.8 L917.8,532.2" fill="none" stroke="#c4d2dc" stroke-width="2.2" stroke-linecap="round" stroke-linejoin="round"/>
<line x1="913.4" y1="312.37" x2="913.4" y2="327.37" stroke="#cad99c" stroke-width="2.6" stroke-linecap="round"/>
<ellipse cx="903.9" cy="317.75" rx="7.5" ry="3.8" fill="#68a832" transform="rotate(-45.28 903.9 317.75)"/>
<ellipse cx="922.9" cy="317.74" rx="7.5" ry="3.8" fill="#80bd3f" transform="rotate(53.17 922.9 317.74)"/>
<ellipse cx="913.4" cy="312.37" rx="4.5" ry="2.8" fill="#5a962b"/>
<path d="M954.2,326.36 L954.8,355.34 L954.53,384.32 L956.58,413.29 L957.1,442.27 L957.28,471.25 L957.95,500.22 L958.5,529.2" fill="none" stroke="#c4d2dc" stroke-width="2.2" stroke-linecap="round" stroke-linejoin="round"/>
<line x1="954.2" y1="312.36" x2="954.2" y2="327.36" stroke="#cad99c" stroke-width="2.6" stroke-linecap="round"/>
<ellipse cx="944.7" cy="318.07" rx="7.5" ry="3.8" fill="#68a832" transform="rotate(-48.81 944.7 318.07)"/>
<ellipse cx="963.7" cy="316.62" rx="7.5" ry="3.8" fill="#80bd3f" transform="rotate(43.32 963.7 316.62)"/>
<ellipse cx="954.2" cy="312.36" rx="4.5" ry="2.8" fill="#5a962b"/>
<path d="M997.8,325.15 L997.16,355.56 L997.78,385.96 L996.63,416.37 L997.37,446.78 L997.58,477.19 L996.5,507.59 L996.3,538" fill="none" stroke="#c4d2dc" stroke-width="2.2" stroke-linecap="round" stroke-linejoin="round"/>
<line x1="997.8" y1="311.15" x2="997.8" y2="326.15" stroke="#cad99c" stroke-width="2.6" stroke-linecap="round"/>
<ellipse cx="988.3" cy="316.7" rx="7.5" ry="3.8" fill="#68a832" transform="rotate(-54.35 988.3 316.7)"/>
<ellipse cx="1007.3" cy="316.95" rx="7.5" ry="3.8" fill="#80bd3f" transform="rotate(51.58 1007.3 316.95)"/>
<ellipse cx="997.8" cy="311.15" rx="4.5" ry="2.8" fill="#5a962b"/>
<path d="M1038.5,324.23 L1038.76,354.97 L1037.74,385.71 L1037.87,416.45 L1038.06,447.19 L1038.94,477.92 L1038.15,508.66 L1038.5,539.4" fill="none" stroke="#c4d2dc" stroke-width="2.2" stroke-linecap="round" stroke-linejoin="round"/>
<line x1="1038.5" y1="310.23" x2="1038.5" y2="325.23" stroke="#cad99c" stroke-width="2.6" stroke-linecap="round"/>
<ellipse cx="1029" cy="313.92" rx="7.5" ry="3.8" fill="#68a832" transform="rotate(-50.64 1029 313.92)"/>
<ellipse cx="1048" cy="314.54" rx="7.5" ry="3.8" fill="#80bd3f" transform="rotate(42.25 1048 314.54)"/>
<ellipse cx="1038.5" cy="310.23" rx="4.5" ry="2.8" fill="#5a962b"/>
<path d="M1077.8,322.34 L1078.35,353.35 L1078.52,384.36 L1078.02,415.37 L1078.63,446.38 L1078.74,477.38 L1078.94,508.39 L1079.2,539.4" fill="none" stroke="#c4d2dc" stroke-width="2.2" stroke-linecap="round" stroke-linejoin="round"/>
<line x1="1077.8" y1="308.34" x2="1077.8" y2="323.34" stroke="#cad99c" stroke-width="2.6" stroke-linecap="round"/>
<ellipse cx="1068.3" cy="312.44" rx="7.5" ry="3.8" fill="#68a832" transform="rotate(-59.63 1068.3 312.44)"/>
<ellipse cx="1087.3" cy="314.78" rx="7.5" ry="3.8" fill="#80bd3f" transform="rotate(59.87 1087.3 314.78)"/>
<ellipse cx="1077.8" cy="308.34" rx="4.5" ry="2.8" fill="#5a962b"/>
<path d="M1120,326.87 L1118.37,357.45 L1118.41,388.02 L1118.3,418.6 L1117.81,449.17 L1116.12,479.75 L1115.04,510.32 L1114.7,540.9" fill="none" stroke="#c4d2dc" stroke-width="2.2" stroke-linecap="round" stroke-linejoin="round"/>
<line x1="1120" y1="312.87" x2="1120" y2="327.87" stroke="#cad99c" stroke-width="2.6" stroke-linecap="round"/>
<ellipse cx="1110.5" cy="317" rx="7.5" ry="3.8" fill="#68a832" transform="rotate(-57.8 1110.5 317)"/>
<ellipse cx="1129.5" cy="318.12" rx="7.5" ry="3.8" fill="#80bd3f" transform="rotate(60.91 1129.5 318.12)"/>
<ellipse cx="1120" cy="312.87" rx="4.5" ry="2.8" fill="#5a962b"/>
<path d="M1162.1,325.28 L1163.1,356 L1164.83,386.72 L1164.31,417.43 L1166.5,448.15 L1166.9,478.87 L1168.54,509.58 L1168.8,540.3" fill="none" stroke="#c4d2dc" stroke-width="2.2" stroke-linecap="round" stroke-linejoin="round"/>
<line x1="1162.1" y1="311.28" x2="1162.1" y2="326.28" stroke="#cad99c" stroke-width="2.6" stroke-linecap="round"/>
<ellipse cx="1152.6" cy="317.48" rx="7.5" ry="3.8" fill="#68a832" transform="rotate(-47.93 1152.6 317.48)"/>
<ellipse cx="1171.6" cy="316.24" rx="7.5" ry="3.8" fill="#80bd3f" transform="rotate(46.63 1171.6 316.24)"/>
<ellipse cx="1162.1" cy="311.28" rx="4.5" ry="2.8" fill="#5a962b"/>
<path d="M1200.8,325.05 L1199.79,355.47 L1200.56,385.89 L1200.37,416.31 L1199.99,446.74 L1199.58,477.16 L1199.83,507.58 L1200,538" fill="none" stroke="#c4d2dc" stroke-width="2.2" stroke-linecap="round" stroke-linejoin="round"/>
<line x1="1200.8" y1="311.05" x2="1200.8" y2="326.05" stroke="#cad99c" stroke-width="2.6" stroke-linecap="round"/>
<ellipse cx="1191.3" cy="314.55" rx="7.5" ry="3.8" fill="#68a832" transform="rotate(-55.68 1191.3 314.55)"/>
<ellipse cx="1210.3" cy="316.8" rx="7.5" ry="3.8" fill="#80bd3f" transform="rotate(58.8 1210.3 316.8)"/>
<ellipse cx="1200.8" cy="311.05" rx="4.5" ry="2.8" fill="#5a962b"/>
<rect x="815.1" y="579.8" width="416.9" height="164.9" fill="#526a88" stroke="#3f5876" stroke-width="1.2"/>
<line x1="818" y1="579.8" x2="818" y2="744.7" stroke="#8ea3ba" stroke-width="2.0" opacity="0.75"/>
<line x1="898.9" y1="579.8" x2="898.9" y2="744.7" stroke="#8ea3ba" stroke-width="2.0" opacity="0.75"/>
<line x1="980.9" y1="579.8" x2="980.9" y2="744.7" stroke="#8ea3ba" stroke-width="2.0" opacity="0.75"/>
<line x1="1063.3" y1="579.8" x2="1063.3" y2="744.7" stroke="#8ea3ba" stroke-width="2.0" opacity="0.75"/>
<line x1="1145.6" y1="579.8" x2="1145.6" y2="744.7" stroke="#8ea3ba" stroke-width="2.0" opacity="0.75"/>
<line x1="1227.6" y1="579.8" x2="1227.6" y2="744.7" stroke="#8ea3ba" stroke-width="2.0" opacity="0.75"/>
<line x1="815.1" y1="612.9" x2="1232" y2="612.9" stroke="#8ea3ba" stroke-width="2.0" opacity="0.6"/>
<line x1="815.1" y1="694.7" x2="1232" y2="694.7" stroke="#8ea3ba" stroke-width="2.0" opacity="0.6"/>
<path d="M827.6,611.15 L826.92,623.79 L828.37,636.42 L827.98,649.06 L828.32,661.69 L827.22,674.33 L827.37,686.96 L827.6,699.6" fill="none" stroke="#c4d2dc" stroke-width="1.9" stroke-linecap="round" stroke-linejoin="round"/>
<line x1="827.6" y1="603.03" x2="827.6" y2="612.15" stroke="#c2d2ae" stroke-width="2" stroke-linecap="round"/>
<ellipse cx="822.09" cy="606.2" rx="4.35" ry="2.2" fill="#5a8f30" transform="rotate(-54.14 822.09 606.2)"/>
<ellipse cx="833.11" cy="605.52" rx="4.35" ry="2.2" fill="#6e9f3a" transform="rotate(61.98 833.11 605.52)"/>
<ellipse cx="827.6" cy="603.03" rx="2.61" ry="1.62" fill="#4f7f2a"/>
<path d="M852.4,608.69 L852,622.5 L851.59,636.32 L851.68,650.14 L853,663.95 L852.01,677.77 L853.18,691.58 L852.4,705.4" fill="none" stroke="#c4d2dc" stroke-width="1.9" stroke-linecap="round" stroke-linejoin="round"/>
<line x1="852.4" y1="600.57" x2="852.4" y2="609.69" stroke="#c2d2ae" stroke-width="2" stroke-linecap="round"/>
<ellipse cx="846.89" cy="603.5" rx="4.35" ry="2.2" fill="#5a8f30" transform="rotate(-57.01 846.89 603.5)"/>
<ellipse cx="857.91" cy="602.54" rx="4.35" ry="2.2" fill="#6e9f3a" transform="rotate(47.31 857.91 602.54)"/>
<ellipse cx="852.4" cy="600.57" rx="2.61" ry="1.62" fill="#4f7f2a"/>
<path d="M877.1,608.36 L877.92,621.39 L877.79,634.43 L877.66,647.46 L877.34,660.5 L877.84,673.53 L877.89,686.57 L877.1,699.6" fill="none" stroke="#c4d2dc" stroke-width="1.9" stroke-linecap="round" stroke-linejoin="round"/>
<line x1="877.1" y1="600.24" x2="877.1" y2="609.36" stroke="#c2d2ae" stroke-width="2" stroke-linecap="round"/>
<ellipse cx="871.59" cy="601.79" rx="4.35" ry="2.2" fill="#5a8f30" transform="rotate(-51.02 871.59 601.79)"/>
<ellipse cx="882.61" cy="603.84" rx="4.35" ry="2.2" fill="#6e9f3a" transform="rotate(56.39 882.61 603.84)"/>
<ellipse cx="877.1" cy="600.24" rx="2.61" ry="1.62" fill="#4f7f2a"/>
<path d="M909,608.83 L909.45,621.99 L909.26,635.16 L908.62,648.33 L908.19,661.5 L909.77,674.66 L908.33,687.83 L909,701" fill="none" stroke="#c4d2dc" stroke-width="1.9" stroke-linecap="round" stroke-linejoin="round"/>
<line x1="909" y1="600.71" x2="909" y2="609.83" stroke="#c2d2ae" stroke-width="2" stroke-linecap="round"/>
<ellipse cx="903.49" cy="603" rx="4.35" ry="2.2" fill="#5a8f30" transform="rotate(-52.56 903.49 603)"/>
<ellipse cx="914.51" cy="604.32" rx="4.35" ry="2.2" fill="#6e9f3a" transform="rotate(48.87 914.51 604.32)"/>
<ellipse cx="909" cy="600.71" rx="2.61" ry="1.62" fill="#4f7f2a"/>
<path d="M938.2,611.98 L937.77,625.12 L938.48,638.27 L937.84,651.42 L938.3,664.56 L938.01,677.71 L937.6,690.85 L938.2,704" fill="none" stroke="#c4d2dc" stroke-width="1.9" stroke-linecap="round" stroke-linejoin="round"/>
<line x1="938.2" y1="603.86" x2="938.2" y2="612.98" stroke="#c2d2ae" stroke-width="2" stroke-linecap="round"/>
<ellipse cx="932.69" cy="607.98" rx="4.35" ry="2.2" fill="#5a8f30" transform="rotate(-58.77 932.69 607.98)"/>
<ellipse cx="943.71" cy="606.75" rx="4.35" ry="2.2" fill="#6e9f3a" transform="rotate(46.16 943.71 606.75)"/>
<ellipse cx="938.2" cy="603.86" rx="2.61" ry="1.62" fill="#4f7f2a"/>
<path d="M961.4,607.44 L962.13,620.41 L962.29,633.37 L961.31,646.34 L960.75,659.3 L960.85,672.27 L960.66,685.23 L961.4,698.2" fill="none" stroke="#c4d2dc" stroke-width="1.9" stroke-linecap="round" stroke-linejoin="round"/>
<line x1="961.4" y1="599.32" x2="961.4" y2="608.44" stroke="#c2d2ae" stroke-width="2" stroke-linecap="round"/>
<ellipse cx="955.89" cy="601.44" rx="4.35" ry="2.2" fill="#5a8f30" transform="rotate(-55.16 955.89 601.44)"/>
<ellipse cx="966.91" cy="601.5" rx="4.35" ry="2.2" fill="#6e9f3a" transform="rotate(43.82 966.91 601.5)"/>
<ellipse cx="961.4" cy="599.32" rx="2.61" ry="1.62" fill="#4f7f2a"/>
<path d="M993.4,609.54 L994.1,624.69 L993.85,639.84 L993.24,654.99 L993.24,670.14 L993.44,685.3 L993.18,700.45 L993.4,715.6" fill="none" stroke="#c4d2dc" stroke-width="1.9" stroke-linecap="round" stroke-linejoin="round"/>
<line x1="993.4" y1="601.42" x2="993.4" y2="610.54" stroke="#c2d2ae" stroke-width="2" stroke-linecap="round"/>
<ellipse cx="987.89" cy="603.65" rx="4.35" ry="2.2" fill="#5a8f30" transform="rotate(-55.24 987.89 603.65)"/>
<ellipse cx="998.91" cy="605.72" rx="4.35" ry="2.2" fill="#6e9f3a" transform="rotate(43.24 998.91 605.72)"/>
<ellipse cx="993.4" cy="601.42" rx="2.61" ry="1.62" fill="#4f7f2a"/>
<path d="M1021,606.88 L1021.01,622.61 L1021.23,638.34 L1021.65,654.07 L1020.49,669.8 L1020.59,685.54 L1020.55,701.27 L1021,717" fill="none" stroke="#c4d2dc" stroke-width="1.9" stroke-linecap="round" stroke-linejoin="round"/>
<line x1="1021" y1="598.76" x2="1021" y2="607.88" stroke="#c2d2ae" stroke-width="2" stroke-linecap="round"/>
<ellipse cx="1015.49" cy="603.02" rx="4.35" ry="2.2" fill="#5a8f30" transform="rotate(-54 1015.49 603.02)"/>
<ellipse cx="1026.51" cy="602.7" rx="4.35" ry="2.2" fill="#6e9f3a" transform="rotate(50.92 1026.51 602.7)"/>
<ellipse cx="1021" cy="598.76" rx="2.61" ry="1.62" fill="#4f7f2a"/>
<path d="M1041.4,611.36 L1040.54,625.83 L1040.56,640.31 L1041.78,654.79 L1042.11,669.27 L1041.35,683.74 L1041.56,698.22 L1041.4,712.7" fill="none" stroke="#c4d2dc" stroke-width="1.9" stroke-linecap="round" stroke-linejoin="round"/>
<line x1="1041.4" y1="603.24" x2="1041.4" y2="612.36" stroke="#c2d2ae" stroke-width="2" stroke-linecap="round"/>
<ellipse cx="1035.89" cy="607.42" rx="4.35" ry="2.2" fill="#5a8f30" transform="rotate(-62 1035.89 607.42)"/>
<ellipse cx="1046.91" cy="607.11" rx="4.35" ry="2.2" fill="#6e9f3a" transform="rotate(49.83 1046.91 607.11)"/>
<ellipse cx="1041.4" cy="603.24" rx="2.61" ry="1.62" fill="#4f7f2a"/>
<path d="M1074.9,611.25 L1075.75,626.16 L1074.45,641.07 L1074.2,655.97 L1074.28,670.88 L1074.94,685.79 L1075.23,700.69 L1074.9,715.6" fill="none" stroke="#c4d2dc" stroke-width="1.9" stroke-linecap="round" stroke-linejoin="round"/>
<line x1="1074.9" y1="603.13" x2="1074.9" y2="612.25" stroke="#c2d2ae" stroke-width="2" stroke-linecap="round"/>
<ellipse cx="1069.39" cy="606.47" rx="4.35" ry="2.2" fill="#5a8f30" transform="rotate(-43.17 1069.39 606.47)"/>
<ellipse cx="1080.41" cy="606.83" rx="4.35" ry="2.2" fill="#6e9f3a" transform="rotate(56.43 1080.41 606.83)"/>
<ellipse cx="1074.9" cy="603.13" rx="2.61" ry="1.62" fill="#4f7f2a"/>
<path d="M1102.5,608.86 L1102.59,624.11 L1101.67,639.36 L1103.01,654.61 L1102.02,669.86 L1103.26,685.1 L1102.76,700.35 L1102.5,715.6" fill="none" stroke="#c4d2dc" stroke-width="1.9" stroke-linecap="round" stroke-linejoin="round"/>
<line x1="1102.5" y1="600.74" x2="1102.5" y2="609.86" stroke="#c2d2ae" stroke-width="2" stroke-linecap="round"/>
<ellipse cx="1096.99" cy="602.9" rx="4.35" ry="2.2" fill="#5a8f30" transform="rotate(-55.92 1096.99 602.9)"/>
<ellipse cx="1108.01" cy="604.05" rx="4.35" ry="2.2" fill="#6e9f3a" transform="rotate(44.56 1108.01 604.05)"/>
<ellipse cx="1102.5" cy="600.74" rx="2.61" ry="1.62" fill="#4f7f2a"/>
<path d="M1127.2,610.31 L1126.5,625.55 L1126.43,640.79 L1127.24,656.04 L1127.35,671.28 L1127,686.52 L1126.7,701.76 L1127.2,717" fill="none" stroke="#c4d2dc" stroke-width="1.9" stroke-linecap="round" stroke-linejoin="round"/>
<line x1="1127.2" y1="602.19" x2="1127.2" y2="611.31" stroke="#c2d2ae" stroke-width="2" stroke-linecap="round"/>
<ellipse cx="1121.69" cy="604.5" rx="4.35" ry="2.2" fill="#5a8f30" transform="rotate(-49.98 1121.69 604.5)"/>
<ellipse cx="1132.71" cy="604.97" rx="4.35" ry="2.2" fill="#6e9f3a" transform="rotate(42.21 1132.71 604.97)"/>
<ellipse cx="1127.2" cy="602.19" rx="2.61" ry="1.62" fill="#4f7f2a"/>
<path d="M1159.2,611.87 L1159.46,628.15 L1159.89,644.42 L1159.16,660.7 L1158.72,676.97 L1158.74,693.25 L1160.03,709.52 L1159.2,725.8" fill="none" stroke="#c4d2dc" stroke-width="1.9" stroke-linecap="round" stroke-linejoin="round"/>
<line x1="1159.2" y1="603.75" x2="1159.2" y2="612.87" stroke="#c2d2ae" stroke-width="2" stroke-linecap="round"/>
<ellipse cx="1153.69" cy="605.22" rx="4.35" ry="2.2" fill="#5a8f30" transform="rotate(-47.91 1153.69 605.22)"/>
<ellipse cx="1164.71" cy="606.65" rx="4.35" ry="2.2" fill="#6e9f3a" transform="rotate(48.15 1164.71 606.65)"/>
<ellipse cx="1159.2" cy="603.75" rx="2.61" ry="1.62" fill="#4f7f2a"/>
<path d="M1181,610.17 L1180.86,626.27 L1180.56,642.38 L1181.3,658.48 L1181.77,674.59 L1180.51,690.69 L1180.16,706.8 L1181,722.9" fill="none" stroke="#c4d2dc" stroke-width="1.9" stroke-linecap="round" stroke-linejoin="round"/>
<line x1="1181" y1="602.05" x2="1181" y2="611.17" stroke="#c2d2ae" stroke-width="2" stroke-linecap="round"/>
<ellipse cx="1175.49" cy="605.49" rx="4.35" ry="2.2" fill="#5a8f30" transform="rotate(-55.24 1175.49 605.49)"/>
<ellipse cx="1186.51" cy="604.04" rx="4.35" ry="2.2" fill="#6e9f3a" transform="rotate(50.41 1186.51 604.04)"/>
<ellipse cx="1181" cy="602.05" rx="2.61" ry="1.62" fill="#4f7f2a"/>
<path d="M1208.7,610.9 L1209.13,626.69 L1208.71,642.47 L1208.17,658.26 L1209.55,674.04 L1208.36,689.83 L1209.28,705.61 L1208.7,721.4" fill="none" stroke="#c4d2dc" stroke-width="1.9" stroke-linecap="round" stroke-linejoin="round"/>
<line x1="1208.7" y1="602.78" x2="1208.7" y2="611.9" stroke="#c2d2ae" stroke-width="2" stroke-linecap="round"/>
<ellipse cx="1203.19" cy="606.46" rx="4.35" ry="2.2" fill="#5a8f30" transform="rotate(-57.38 1203.19 606.46)"/>
<ellipse cx="1214.21" cy="605.07" rx="4.35" ry="2.2" fill="#6e9f3a" transform="rotate(46.43 1214.21 605.07)"/>
<ellipse cx="1208.7" cy="602.78" rx="2.61" ry="1.62" fill="#4f7f2a"/>
<rect x="812.2" y="753.4" width="426.2" height="169.6" fill="#465b79" stroke="#3f5876" stroke-width="1.2"/>
<line x1="814" y1="753.4" x2="814" y2="923" stroke="#8ea3ba" stroke-width="2.0" opacity="0.75"/>
<line x1="896.9" y1="753.4" x2="896.9" y2="923" stroke="#8ea3ba" stroke-width="2.0" opacity="0.75"/>
<line x1="979.5" y1="753.4" x2="979.5" y2="923" stroke="#8ea3ba" stroke-width="2.0" opacity="0.75"/>
<line x1="1064.7" y1="753.4" x2="1064.7" y2="923" stroke="#8ea3ba" stroke-width="2.0" opacity="0.75"/>
<line x1="1148.5" y1="753.4" x2="1148.5" y2="923" stroke="#8ea3ba" stroke-width="2.0" opacity="0.75"/>
<line x1="812.2" y1="788.3" x2="1238.4" y2="788.3" stroke="#8ea3ba" stroke-width="2.0" opacity="0.6"/>
<line x1="812.2" y1="871.2" x2="1238.4" y2="871.2" stroke="#8ea3ba" stroke-width="2.0" opacity="0.6"/>
<path d="M827.6,787.21 L827.59,799.64 L827.04,812.06 L827.1,824.49 L827.45,836.92 L827.9,849.35 L828.41,861.77 L827.6,874.2" fill="none" stroke="#c4d2dc" stroke-width="1.9" stroke-linecap="round" stroke-linejoin="round"/>
<line x1="827.6" y1="778.81" x2="827.6" y2="788.21" stroke="#d3dacd" stroke-width="2" stroke-linecap="round"/>
<ellipse cx="821.9" cy="780.95" rx="4.5" ry="2.28" fill="#c9d3c4" transform="rotate(-59.07 821.9 780.95)"/>
<ellipse cx="833.3" cy="783.23" rx="4.5" ry="2.28" fill="#dde3d6" transform="rotate(49.87 833.3 783.23)"/>
<ellipse cx="827.6" cy="778.81" rx="2.7" ry="1.68" fill="#b9c3b2"/>
<path d="M852.4,783.97 L851.59,797.06 L851.61,810.15 L852.21,823.24 L853.12,836.33 L853.09,849.42 L852.82,862.51 L852.4,875.6" fill="none" stroke="#c4d2dc" stroke-width="1.9" stroke-linecap="round" stroke-linejoin="round"/>
<line x1="852.4" y1="775.57" x2="852.4" y2="784.97" stroke="#d3dacd" stroke-width="2" stroke-linecap="round"/>
<ellipse cx="846.7" cy="778.06" rx="4.5" ry="2.28" fill="#c9d3c4" transform="rotate(-42.05 846.7 778.06)"/>
<ellipse cx="858.1" cy="777.62" rx="4.5" ry="2.28" fill="#dde3d6" transform="rotate(60.63 858.1 777.62)"/>
<ellipse cx="852.4" cy="775.57" rx="2.7" ry="1.68" fill="#b9c3b2"/>
<path d="M877.1,787.14 L877.54,799.78 L876.26,812.42 L877.4,825.05 L876.88,837.69 L876.87,850.33 L876.8,862.96 L877.1,875.6" fill="none" stroke="#c4d2dc" stroke-width="1.9" stroke-linecap="round" stroke-linejoin="round"/>
<line x1="877.1" y1="778.74" x2="877.1" y2="788.14" stroke="#d3dacd" stroke-width="2" stroke-linecap="round"/>
<ellipse cx="871.4" cy="781.08" rx="4.5" ry="2.28" fill="#c9d3c4" transform="rotate(-58.61 871.4 781.08)"/>
<ellipse cx="882.8" cy="781.3" rx="4.5" ry="2.28" fill="#dde3d6" transform="rotate(42.06 882.8 781.3)"/>
<ellipse cx="877.1" cy="778.74" rx="2.7" ry="1.68" fill="#b9c3b2"/>
<path d="M909,787.22 L908.32,800.05 L909.84,812.87 L908.47,825.7 L908.74,838.52 L909.58,851.35 L909.58,864.17 L909,877" fill="none" stroke="#c4d2dc" stroke-width="1.9" stroke-linecap="round" stroke-linejoin="round"/>
<line x1="909" y1="778.82" x2="909" y2="788.22" stroke="#d3dacd" stroke-width="2" stroke-linecap="round"/>
<ellipse cx="903.3" cy="781.74" rx="4.5" ry="2.28" fill="#c9d3c4" transform="rotate(-53.35 903.3 781.74)"/>
<ellipse cx="914.7" cy="781.44" rx="4.5" ry="2.28" fill="#dde3d6" transform="rotate(42.99 914.7 781.44)"/>
<ellipse cx="909" cy="778.82" rx="2.7" ry="1.68" fill="#b9c3b2"/>
<path d="M933.8,787.08 L933.25,799.52 L933.56,811.97 L934.51,824.42 L932.95,836.86 L933.64,849.31 L934.36,861.75 L933.8,874.2" fill="none" stroke="#c4d2dc" stroke-width="1.9" stroke-linecap="round" stroke-linejoin="round"/>
<line x1="933.8" y1="778.68" x2="933.8" y2="788.08" stroke="#d3dacd" stroke-width="2" stroke-linecap="round"/>
<ellipse cx="928.1" cy="780.28" rx="4.5" ry="2.28" fill="#c9d3c4" transform="rotate(-46.67 928.1 780.28)"/>
<ellipse cx="939.5" cy="780.37" rx="4.5" ry="2.28" fill="#dde3d6" transform="rotate(42.81 939.5 780.37)"/>
<ellipse cx="933.8" cy="778.68" rx="2.7" ry="1.68" fill="#b9c3b2"/>
<path d="M955.6,787.08 L955.16,799.31 L956.05,811.54 L956.32,823.77 L955.31,836.01 L955.19,848.24 L956.42,860.47 L955.6,872.7" fill="none" stroke="#c4d2dc" stroke-width="1.9" stroke-linecap="round" stroke-linejoin="round"/>
<line x1="955.6" y1="778.68" x2="955.6" y2="788.08" stroke="#d3dacd" stroke-width="2" stroke-linecap="round"/>
<ellipse cx="949.9" cy="782.33" rx="4.5" ry="2.28" fill="#c9d3c4" transform="rotate(-49.66 949.9 782.33)"/>
<ellipse cx="961.3" cy="781.13" rx="4.5" ry="2.28" fill="#dde3d6" transform="rotate(47.24 961.3 781.13)"/>
<ellipse cx="955.6" cy="778.68" rx="2.7" ry="1.68" fill="#b9c3b2"/>
<path d="M993.4,786.6 L992.51,799.12 L993.86,811.63 L994.15,824.14 L993.64,836.66 L994.2,849.17 L992.54,861.69 L993.4,874.2" fill="none" stroke="#c4d2dc" stroke-width="1.9" stroke-linecap="round" stroke-linejoin="round"/>
<line x1="993.4" y1="776.1" x2="993.4" y2="787.6" stroke="#cad99c" stroke-width="2" stroke-linecap="round"/>
<ellipse cx="986.27" cy="781.22" rx="5.62" ry="2.85" fill="#74a838" transform="rotate(-57.32 986.27 781.22)"/>
<ellipse cx="1000.52" cy="781.21" rx="5.62" ry="2.85" fill="#88bb44" transform="rotate(51.5 1000.52 781.21)"/>
<ellipse cx="993.4" cy="776.1" rx="3.38" ry="2.1" fill="#66962f"/>
<path d="M1019.6,787.05 L1019.15,800.11 L1019.47,813.18 L1019.59,826.24 L1020.37,839.31 L1019.03,852.37 L1020.14,865.44 L1019.6,878.5" fill="none" stroke="#c4d2dc" stroke-width="1.9" stroke-linecap="round" stroke-linejoin="round"/>
<line x1="1019.6" y1="776.55" x2="1019.6" y2="788.05" stroke="#cad99c" stroke-width="2" stroke-linecap="round"/>
<ellipse cx="1012.48" cy="781.11" rx="5.62" ry="2.85" fill="#74a838" transform="rotate(-47.23 1012.48 781.11)"/>
<ellipse cx="1026.72" cy="780.62" rx="5.62" ry="2.85" fill="#88bb44" transform="rotate(58.46 1026.72 780.62)"/>
<ellipse cx="1019.6" cy="776.55" rx="3.38" ry="2.1" fill="#66962f"/>
<path d="M1047.3,786.81 L1046.98,799.5 L1047.05,812.18 L1047.81,824.86 L1046.54,837.55 L1046.76,850.23 L1047.76,862.92 L1047.3,875.6" fill="none" stroke="#c4d2dc" stroke-width="1.9" stroke-linecap="round" stroke-linejoin="round"/>
<line x1="1047.3" y1="776.31" x2="1047.3" y2="787.81" stroke="#cad99c" stroke-width="2" stroke-linecap="round"/>
<ellipse cx="1040.17" cy="778.66" rx="5.62" ry="2.85" fill="#74a838" transform="rotate(-57.05 1040.17 778.66)"/>
<ellipse cx="1054.42" cy="780.22" rx="5.62" ry="2.85" fill="#88bb44" transform="rotate(43.29 1054.42 780.22)"/>
<ellipse cx="1047.3" cy="776.31" rx="3.38" ry="2.1" fill="#66962f"/>
<path d="M1082.2,786.8 L1083.06,798.25 L1082.89,809.69 L1083.08,821.13 L1081.78,832.57 L1081.45,844.02 L1081.47,855.46 L1082.2,866.9" fill="none" stroke="#c4d2dc" stroke-width="1.9" stroke-linecap="round" stroke-linejoin="round"/>
<line x1="1082.2" y1="776.3" x2="1082.2" y2="787.8" stroke="#cad99c" stroke-width="2" stroke-linecap="round"/>
<ellipse cx="1075.08" cy="779.89" rx="5.62" ry="2.85" fill="#74a838" transform="rotate(-52.03 1075.08 779.89)"/>
<ellipse cx="1089.33" cy="779.26" rx="5.62" ry="2.85" fill="#88bb44" transform="rotate(56.2 1089.33 779.26)"/>
<ellipse cx="1082.2" cy="776.3" rx="3.38" ry="2.1" fill="#66962f"/>
<path d="M1105.4,787.17 L1105.62,798.97 L1105.71,810.78 L1105.85,822.58 L1106.02,834.39 L1105.7,846.19 L1104.72,858 L1105.4,869.8" fill="none" stroke="#c4d2dc" stroke-width="1.9" stroke-linecap="round" stroke-linejoin="round"/>
<line x1="1105.4" y1="776.67" x2="1105.4" y2="788.17" stroke="#cad99c" stroke-width="2" stroke-linecap="round"/>
<ellipse cx="1098.28" cy="780.62" rx="5.62" ry="2.85" fill="#74a838" transform="rotate(-45.18 1098.28 780.62)"/>
<ellipse cx="1112.53" cy="780.04" rx="5.62" ry="2.85" fill="#88bb44" transform="rotate(47.88 1112.53 780.04)"/>
<ellipse cx="1105.4" cy="776.67" rx="3.38" ry="2.1" fill="#66962f"/>
<path d="M1133,788.45 L1132.46,800.7 L1132.55,812.95 L1132.54,825.2 L1132.38,837.45 L1133.69,849.7 L1133.14,861.95 L1133,874.2" fill="none" stroke="#c4d2dc" stroke-width="1.9" stroke-linecap="round" stroke-linejoin="round"/>
<line x1="1133" y1="777.95" x2="1133" y2="789.45" stroke="#cad99c" stroke-width="2" stroke-linecap="round"/>
<ellipse cx="1125.88" cy="783.18" rx="5.62" ry="2.85" fill="#74a838" transform="rotate(-55.47 1125.88 783.18)"/>
<ellipse cx="1140.12" cy="781.72" rx="5.62" ry="2.85" fill="#88bb44" transform="rotate(49.92 1140.12 781.72)"/>
<ellipse cx="1133" cy="777.95" rx="3.38" ry="2.1" fill="#66962f"/>
<path d="M1165,786.43 L1165.56,796.46 L1165.28,806.5 L1165.88,816.54 L1164.28,826.58 L1164.95,836.62 L1165.57,846.66 L1165,856.7" fill="none" stroke="#c4d2dc" stroke-width="1.9" stroke-linecap="round" stroke-linejoin="round"/>
<line x1="1165" y1="775.93" x2="1165" y2="787.43" stroke="#cad99c" stroke-width="2" stroke-linecap="round"/>
<ellipse cx="1157.88" cy="778.3" rx="5.62" ry="2.85" fill="#74a838" transform="rotate(-45.19 1157.88 778.3)"/>
<ellipse cx="1172.12" cy="779.06" rx="5.62" ry="2.85" fill="#88bb44" transform="rotate(60.29 1172.12 779.06)"/>
<ellipse cx="1165" cy="775.93" rx="3.38" ry="2.1" fill="#66962f"/>
<path d="M1194.1,785.98 L1193.54,796.69 L1194.95,807.41 L1194.25,818.13 L1194.87,828.85 L1193.87,839.56 L1194.76,850.28 L1194.1,861" fill="none" stroke="#c4d2dc" stroke-width="1.9" stroke-linecap="round" stroke-linejoin="round"/>
<line x1="1194.1" y1="775.48" x2="1194.1" y2="786.98" stroke="#cad99c" stroke-width="2" stroke-linecap="round"/>
<ellipse cx="1186.97" cy="780.06" rx="5.62" ry="2.85" fill="#74a838" transform="rotate(-53.02 1186.97 780.06)"/>
<ellipse cx="1201.22" cy="780.56" rx="5.62" ry="2.85" fill="#88bb44" transform="rotate(47.2 1201.22 780.56)"/>
<ellipse cx="1194.1" cy="775.48" rx="3.38" ry="2.1" fill="#66962f"/>
<path d="M1220.3,785.92 L1220.47,796.03 L1220.52,806.15 L1219.79,816.26 L1220.06,826.37 L1219.65,836.48 L1219.77,846.59 L1220.3,856.7" fill="none" stroke="#c4d2dc" stroke-width="1.9" stroke-linecap="round" stroke-linejoin="round"/>
<line x1="1220.3" y1="775.42" x2="1220.3" y2="786.92" stroke="#cad99c" stroke-width="2" stroke-linecap="round"/>
<ellipse cx="1213.17" cy="779.63" rx="5.62" ry="2.85" fill="#74a838" transform="rotate(-56.9 1213.17 779.63)"/>
<ellipse cx="1227.42" cy="778.28" rx="5.62" ry="2.85" fill="#88bb44" transform="rotate(53.99 1227.42 778.28)"/>
<ellipse cx="1220.3" cy="775.42" rx="3.38" ry="2.1" fill="#66962f"/>
<text x="18.4" y="1033.8" font-size="33" text-anchor="start" fill="#000" >B</text>
<rect x="124.9" y="1134.5" width="13.3" height="248.6" fill="#174a70" stroke="#0d0d0d" stroke-width="2.5" />
<rect x="138.2" y="1134.5" width="13.3" height="248.6" fill="#2a8cbd" stroke="#0d0d0d" stroke-width="2.5" />
<rect x="151.5" y="1134.5" width="13.3" height="248.6" fill="#a6dce0" stroke="#0d0d0d" stroke-width="2.5" />
<rect x="164.8" y="1134.5" width="13.3" height="248.6" fill="#e5812c" stroke="#0d0d0d" stroke-width="2.5" />
<rect x="178.1" y="1134.5" width="13.3" height="248.6" fill="#e6d54f" stroke="#0d0d0d" stroke-width="2.5" />
<rect x="191.4" y="1134.5" width="13.3" height="248.6" fill="#fbf07a" stroke="#0d0d0d" stroke-width="2.5" />
<rect x="204.7" y="1134.5" width="13.3" height="248.6" fill="#000000" stroke="#0d0d0d" stroke-width="2.5" />
<rect x="218" y="1134.5" width="13.3" height="248.6" fill="#ffffff" stroke="#0d0d0d" stroke-width="2.5" />
<line x1="131.55" y1="1128.28" x2="131.55" y2="1140.71" stroke="#0d0d0d" stroke-width="2.4" />
<line x1="127.55" y1="1128.28" x2="135.55" y2="1128.28" stroke="#0d0d0d" stroke-width="2.4" />
<line x1="127.55" y1="1140.71" x2="135.55" y2="1140.71" stroke="#0d0d0d" stroke-width="2.4" />
<line x1="144.85" y1="1125.8" x2="144.85" y2="1143.2" stroke="#0d0d0d" stroke-width="2.4" />
<line x1="140.85" y1="1125.8" x2="148.85" y2="1125.8" stroke="#0d0d0d" stroke-width="2.4" />
<line x1="140.85" y1="1143.2" x2="148.85" y2="1143.2" stroke="#0d0d0d" stroke-width="2.4" />
<line x1="158.15" y1="1125.8" x2="158.15" y2="1143.2" stroke="#0d0d0d" stroke-width="2.4" />
<line x1="154.15" y1="1125.8" x2="162.15" y2="1125.8" stroke="#0d0d0d" stroke-width="2.4" />
<line x1="154.15" y1="1143.2" x2="162.15" y2="1143.2" stroke="#0d0d0d" stroke-width="2.4" />
<line x1="171.45" y1="1114.61" x2="171.45" y2="1154.39" stroke="#0d0d0d" stroke-width="2.4" />
<line x1="167.45" y1="1114.61" x2="175.45" y2="1114.61" stroke="#0d0d0d" stroke-width="2.4" />
<line x1="167.45" y1="1154.39" x2="175.45" y2="1154.39" stroke="#0d0d0d" stroke-width="2.4" />
<line x1="184.75" y1="1115.11" x2="184.75" y2="1153.89" stroke="#0d0d0d" stroke-width="2.4" />
<line x1="180.75" y1="1115.11" x2="188.75" y2="1115.11" stroke="#0d0d0d" stroke-width="2.4" />
<line x1="180.75" y1="1153.89" x2="188.75" y2="1153.89" stroke="#0d0d0d" stroke-width="2.4" />
<line x1="198.05" y1="1115.11" x2="198.05" y2="1153.89" stroke="#0d0d0d" stroke-width="2.4" />
<line x1="194.05" y1="1115.11" x2="202.05" y2="1115.11" stroke="#0d0d0d" stroke-width="2.4" />
<line x1="194.05" y1="1153.89" x2="202.05" y2="1153.89" stroke="#0d0d0d" stroke-width="2.4" />
<line x1="211.35" y1="1114.61" x2="211.35" y2="1154.39" stroke="#0d0d0d" stroke-width="2.4" />
<line x1="207.35" y1="1114.61" x2="215.35" y2="1114.61" stroke="#0d0d0d" stroke-width="2.4" />
<line x1="207.35" y1="1154.39" x2="215.35" y2="1154.39" stroke="#0d0d0d" stroke-width="2.4" />
<line x1="224.65" y1="1120.83" x2="224.65" y2="1148.17" stroke="#0d0d0d" stroke-width="2.4" />
<line x1="220.65" y1="1120.83" x2="228.65" y2="1120.83" stroke="#0d0d0d" stroke-width="2.4" />
<line x1="220.65" y1="1148.17" x2="228.65" y2="1148.17" stroke="#0d0d0d" stroke-width="2.4" />
<rect x="259.2" y="1323.44" width="13.3" height="59.66" fill="#174a70" stroke="#0d0d0d" stroke-width="2.5" />
<rect x="272.5" y="1342.58" width="13.3" height="40.52" fill="#2a8cbd" stroke="#0d0d0d" stroke-width="2.5" />
<rect x="285.8" y="1340.09" width="13.3" height="43.01" fill="#a6dce0" stroke="#0d0d0d" stroke-width="2.5" />
<rect x="299.1" y="1320.95" width="13.3" height="62.15" fill="#e5812c" stroke="#0d0d0d" stroke-width="2.5" />
<rect x="312.4" y="1353.02" width="13.3" height="30.08" fill="#e6d54f" stroke="#0d0d0d" stroke-width="2.5" />
<rect x="325.7" y="1351.03" width="13.3" height="32.07" fill="#fbf07a" stroke="#0d0d0d" stroke-width="2.5" />
<rect x="339" y="1367.94" width="13.3" height="15.16" fill="#000000" stroke="#0d0d0d" stroke-width="2.5" />
<rect x="352.3" y="1365.2" width="13.3" height="17.9" fill="#ffffff" stroke="#0d0d0d" stroke-width="2.5" />
<line x1="265.85" y1="1317.22" x2="265.85" y2="1329.65" stroke="#0d0d0d" stroke-width="2.4" />
<line x1="261.85" y1="1317.22" x2="269.85" y2="1317.22" stroke="#0d0d0d" stroke-width="2.4" />
<line x1="261.85" y1="1329.65" x2="269.85" y2="1329.65" stroke="#0d0d0d" stroke-width="2.4" />
<line x1="279.15" y1="1334.62" x2="279.15" y2="1350.53" stroke="#0d0d0d" stroke-width="2.4" />
<line x1="275.15" y1="1334.62" x2="283.15" y2="1334.62" stroke="#0d0d0d" stroke-width="2.4" />
<line x1="275.15" y1="1350.53" x2="283.15" y2="1350.53" stroke="#0d0d0d" stroke-width="2.4" />
<line x1="292.45" y1="1332.14" x2="292.45" y2="1348.05" stroke="#0d0d0d" stroke-width="2.4" />
<line x1="288.45" y1="1332.14" x2="296.45" y2="1332.14" stroke="#0d0d0d" stroke-width="2.4" />
<line x1="288.45" y1="1348.05" x2="296.45" y2="1348.05" stroke="#0d0d0d" stroke-width="2.4" />
<line x1="305.75" y1="1315.98" x2="305.75" y2="1325.92" stroke="#0d0d0d" stroke-width="2.4" />
<line x1="301.75" y1="1315.98" x2="309.75" y2="1315.98" stroke="#0d0d0d" stroke-width="2.4" />
<line x1="301.75" y1="1325.92" x2="309.75" y2="1325.92" stroke="#0d0d0d" stroke-width="2.4" />
<line x1="319.05" y1="1348.05" x2="319.05" y2="1357.99" stroke="#0d0d0d" stroke-width="2.4" />
<line x1="315.05" y1="1348.05" x2="323.05" y2="1348.05" stroke="#0d0d0d" stroke-width="2.4" />
<line x1="315.05" y1="1357.99" x2="323.05" y2="1357.99" stroke="#0d0d0d" stroke-width="2.4" />
<line x1="332.35" y1="1344.32" x2="332.35" y2="1357.74" stroke="#0d0d0d" stroke-width="2.4" />
<line x1="328.35" y1="1344.32" x2="336.35" y2="1344.32" stroke="#0d0d0d" stroke-width="2.4" />
<line x1="328.35" y1="1357.74" x2="336.35" y2="1357.74" stroke="#0d0d0d" stroke-width="2.4" />
<line x1="345.65" y1="1365.45" x2="345.65" y2="1370.42" stroke="#0d0d0d" stroke-width="2.4" />
<line x1="341.65" y1="1365.45" x2="349.65" y2="1365.45" stroke="#0d0d0d" stroke-width="2.4" />
<line x1="341.65" y1="1370.42" x2="349.65" y2="1370.42" stroke="#0d0d0d" stroke-width="2.4" />
<line x1="358.95" y1="1362.71" x2="358.95" y2="1367.69" stroke="#0d0d0d" stroke-width="2.4" />
<line x1="354.95" y1="1362.71" x2="362.95" y2="1362.71" stroke="#0d0d0d" stroke-width="2.4" />
<line x1="354.95" y1="1367.69" x2="362.95" y2="1367.69" stroke="#0d0d0d" stroke-width="2.4" />
<rect x="393" y="1322.44" width="13.3" height="60.66" fill="#174a70" stroke="#0d0d0d" stroke-width="2.5" />
<rect x="406.3" y="1343.57" width="13.3" height="39.53" fill="#2a8cbd" stroke="#0d0d0d" stroke-width="2.5" />
<rect x="419.6" y="1339.59" width="13.3" height="43.51" fill="#a6dce0" stroke="#0d0d0d" stroke-width="2.5" />
<rect x="432.9" y="1318.96" width="13.3" height="64.14" fill="#e5812c" stroke="#0d0d0d" stroke-width="2.5" />
<rect x="446.2" y="1344.32" width="13.3" height="38.78" fill="#e6d54f" stroke="#0d0d0d" stroke-width="2.5" />
<rect x="459.5" y="1340.84" width="13.3" height="42.26" fill="#fbf07a" stroke="#0d0d0d" stroke-width="2.5" />
<rect x="472.8" y="1363.46" width="13.3" height="19.64" fill="#000000" stroke="#0d0d0d" stroke-width="2.5" />
<rect x="486.1" y="1360.97" width="13.3" height="22.13" fill="#ffffff" stroke="#0d0d0d" stroke-width="2.5" />
<line x1="399.65" y1="1317.47" x2="399.65" y2="1327.41" stroke="#0d0d0d" stroke-width="2.4" />
<line x1="395.65" y1="1317.47" x2="403.65" y2="1317.47" stroke="#0d0d0d" stroke-width="2.4" />
<line x1="395.65" y1="1327.41" x2="403.65" y2="1327.41" stroke="#0d0d0d" stroke-width="2.4" />
<line x1="412.95" y1="1336.11" x2="412.95" y2="1351.03" stroke="#0d0d0d" stroke-width="2.4" />
<line x1="408.95" y1="1336.11" x2="416.95" y2="1336.11" stroke="#0d0d0d" stroke-width="2.4" />
<line x1="408.95" y1="1351.03" x2="416.95" y2="1351.03" stroke="#0d0d0d" stroke-width="2.4" />
<line x1="426.25" y1="1335.12" x2="426.25" y2="1344.07" stroke="#0d0d0d" stroke-width="2.4" />
<line x1="422.25" y1="1335.12" x2="430.25" y2="1335.12" stroke="#0d0d0d" stroke-width="2.4" />
<line x1="422.25" y1="1344.07" x2="430.25" y2="1344.07" stroke="#0d0d0d" stroke-width="2.4" />
<line x1="439.55" y1="1315.23" x2="439.55" y2="1322.69" stroke="#0d0d0d" stroke-width="2.4" />
<line x1="435.55" y1="1315.23" x2="443.55" y2="1315.23" stroke="#0d0d0d" stroke-width="2.4" />
<line x1="435.55" y1="1322.69" x2="443.55" y2="1322.69" stroke="#0d0d0d" stroke-width="2.4" />
<line x1="452.85" y1="1338.1" x2="452.85" y2="1350.53" stroke="#0d0d0d" stroke-width="2.4" />
<line x1="448.85" y1="1338.1" x2="456.85" y2="1338.1" stroke="#0d0d0d" stroke-width="2.4" />
<line x1="448.85" y1="1350.53" x2="456.85" y2="1350.53" stroke="#0d0d0d" stroke-width="2.4" />
<line x1="466.15" y1="1336.36" x2="466.15" y2="1345.31" stroke="#0d0d0d" stroke-width="2.4" />
<line x1="462.15" y1="1336.36" x2="470.15" y2="1336.36" stroke="#0d0d0d" stroke-width="2.4" />
<line x1="462.15" y1="1345.31" x2="470.15" y2="1345.31" stroke="#0d0d0d" stroke-width="2.4" />
<line x1="479.45" y1="1360.48" x2="479.45" y2="1366.44" stroke="#0d0d0d" stroke-width="2.4" />
<line x1="475.45" y1="1360.48" x2="483.45" y2="1360.48" stroke="#0d0d0d" stroke-width="2.4" />
<line x1="475.45" y1="1366.44" x2="483.45" y2="1366.44" stroke="#0d0d0d" stroke-width="2.4" />
<line x1="492.75" y1="1354.76" x2="492.75" y2="1367.19" stroke="#0d0d0d" stroke-width="2.4" />
<line x1="488.75" y1="1354.76" x2="496.75" y2="1354.76" stroke="#0d0d0d" stroke-width="2.4" />
<line x1="488.75" y1="1367.19" x2="496.75" y2="1367.19" stroke="#0d0d0d" stroke-width="2.4" />
<line x1="111.6" y1="1083.5" x2="111.6" y2="1384.3" stroke="#0d0d0d" stroke-width="2.5" />
<line x1="110.4" y1="1383.1" x2="513.5" y2="1383.1" stroke="#0d0d0d" stroke-width="2.6" />
<line x1="178.1" y1="1383.1" x2="178.1" y2="1390.1" stroke="#0d0d0d" stroke-width="2.4" />
<text x="178.6" y="1422.4" font-size="31.3" text-anchor="middle" fill="#231815" >CK</text>
<line x1="312.4" y1="1383.1" x2="312.4" y2="1390.1" stroke="#0d0d0d" stroke-width="2.4" />
<text x="312.9" y="1422.4" font-size="31.3" text-anchor="middle" fill="#231815" >NaCl</text>
<line x1="446.2" y1="1383.1" x2="446.2" y2="1390.1" stroke="#0d0d0d" stroke-width="2.4" />
<text x="446.7" y="1422.4" font-size="31.3" text-anchor="middle" fill="#231815" >Mannitol</text>
<line x1="111.6" y1="1383.1" x2="118.6" y2="1383.1" stroke="#0d0d0d" stroke-width="2.4" />
<text x="101" y="1399.8" font-size="31.3" text-anchor="end" fill="#231815" >0</text>
<line x1="111.6" y1="1333.38" x2="118.6" y2="1333.38" stroke="#0d0d0d" stroke-width="2.4" />
<text x="101" y="1350.08" font-size="31.3" text-anchor="end" fill="#231815" >0.2</text>
<line x1="111.6" y1="1283.66" x2="118.6" y2="1283.66" stroke="#0d0d0d" stroke-width="2.4" />
<text x="101" y="1300.36" font-size="31.3" text-anchor="end" fill="#231815" >0.4</text>
<line x1="111.6" y1="1233.94" x2="118.6" y2="1233.94" stroke="#0d0d0d" stroke-width="2.4" />
<text x="101" y="1250.64" font-size="31.3" text-anchor="end" fill="#231815" >0.6</text>
<line x1="111.6" y1="1184.22" x2="118.6" y2="1184.22" stroke="#0d0d0d" stroke-width="2.4" />
<text x="101" y="1200.92" font-size="31.3" text-anchor="end" fill="#231815" >0.8</text>
<line x1="111.6" y1="1134.5" x2="118.6" y2="1134.5" stroke="#0d0d0d" stroke-width="2.4" />
<text x="101" y="1151.2" font-size="31.3" text-anchor="end" fill="#231815" >1.0</text>
<line x1="111.6" y1="1084.78" x2="118.6" y2="1084.78" stroke="#0d0d0d" stroke-width="2.4" />
<text x="101" y="1101.48" font-size="31.3" text-anchor="end" fill="#231815" >1.2</text>
<text x="0" y="0" font-size="31.3" text-anchor="end" fill="#231815" transform="translate(36.5 1069.6) rotate(-90)">Relative Root Length</text>
<line x1="260" y1="1302" x2="340.4" y2="1302" stroke="#231815" stroke-width="1.7" />
<polyline points="300.3,1302 300.3,1284.6 355.4,1284.6 355.4,1356.5" fill="none" stroke="#231815" stroke-width="1.7" stroke-linejoin="miter"/>
<line x1="344" y1="1356.5" x2="366.5" y2="1356.5" stroke="#231815" stroke-width="1.7" />
<text x="320" y="1287.9" font-size="26.5" font-weight="normal" text-anchor="middle" fill="#231815" transform="rotate(14 320 1272.4)">*</text>
<text x="332.9" y="1287.9" font-size="26.5" font-weight="normal" text-anchor="middle" fill="#231815" transform="rotate(14 332.9 1272.4)">*</text>
<line x1="393" y1="1303.8" x2="472.5" y2="1303.8" stroke="#231815" stroke-width="1.7" />
<polyline points="433,1303.8 433,1285.8 487.3,1285.8 487.3,1346" fill="none" stroke="#231815" stroke-width="1.7" stroke-linejoin="miter"/>
<line x1="476.3" y1="1346" x2="498" y2="1346" stroke="#231815" stroke-width="1.7" />
<text x="453" y="1287.9" font-size="26.5" font-weight="normal" text-anchor="middle" fill="#231815" transform="rotate(14 453 1272.4)">*</text>
<text x="465.9" y="1287.9" font-size="26.5" font-weight="normal" text-anchor="middle" fill="#231815" transform="rotate(14 465.9 1272.4)">*</text>
<text x="497" y="1033.8" font-size="33" text-anchor="start" fill="#000" >C</text>
<line x1="626.5" y1="1085.5" x2="626.5" y2="1386.2" stroke="#0d0d0d" stroke-width="2.5" />
<line x1="625.3" y1="1385" x2="1027.6" y2="1385" stroke="#0d0d0d" stroke-width="2.6" />
<line x1="626.5" y1="1385" x2="633.5" y2="1385" stroke="#0d0d0d" stroke-width="2.4" />
<text x="615.1" y="1397.2" font-size="31.3" text-anchor="end" fill="#231815" >0</text>
<line x1="626.5" y1="1335.2" x2="633.5" y2="1335.2" stroke="#0d0d0d" stroke-width="2.4" />
<text x="615.1" y="1347.4" font-size="31.3" text-anchor="end" fill="#231815" >0.2</text>
<line x1="626.5" y1="1285.4" x2="633.5" y2="1285.4" stroke="#0d0d0d" stroke-width="2.4" />
<text x="615.1" y="1297.6" font-size="31.3" text-anchor="end" fill="#231815" >0.4</text>
<line x1="626.5" y1="1235.6" x2="633.5" y2="1235.6" stroke="#0d0d0d" stroke-width="2.4" />
<text x="615.1" y="1247.8" font-size="31.3" text-anchor="end" fill="#231815" >0.6</text>
<line x1="626.5" y1="1185.8" x2="633.5" y2="1185.8" stroke="#0d0d0d" stroke-width="2.4" />
<text x="615.1" y="1198" font-size="31.3" text-anchor="end" fill="#231815" >0.8</text>
<line x1="626.5" y1="1136" x2="633.5" y2="1136" stroke="#0d0d0d" stroke-width="2.4" />
<text x="615.1" y="1148.2" font-size="31.3" text-anchor="end" fill="#231815" >1.0</text>
<line x1="626.5" y1="1086.2" x2="633.5" y2="1086.2" stroke="#0d0d0d" stroke-width="2.4" />
<text x="615.1" y="1098.4" font-size="31.3" text-anchor="end" fill="#231815" >1.2</text>
<line x1="666.3" y1="1385" x2="666.3" y2="1378" stroke="#0d0d0d" stroke-width="2.4" />
<text x="666.6" y="1422.2" font-size="31.3" text-anchor="middle" fill="#231815" >0</text>
<line x1="746.6" y1="1385" x2="746.6" y2="1378" stroke="#0d0d0d" stroke-width="2.4" />
<text x="746.9" y="1423.5" font-size="31.3" text-anchor="middle" fill="#231815" >100</text>
<line x1="826.9" y1="1385" x2="826.9" y2="1378" stroke="#0d0d0d" stroke-width="2.4" />
<text x="827.2" y="1423.5" font-size="31.3" text-anchor="middle" fill="#231815" >200</text>
<line x1="907.2" y1="1385" x2="907.2" y2="1378" stroke="#0d0d0d" stroke-width="2.4" />
<text x="907.5" y="1423.5" font-size="31.3" text-anchor="middle" fill="#231815" >300</text>
<line x1="987.5" y1="1385" x2="987.5" y2="1378" stroke="#0d0d0d" stroke-width="2.4" />
<text x="987.8" y="1423.5" font-size="31.3" text-anchor="middle" fill="#231815" >400</text>
<text x="1036" y="1461" font-size="31.3" text-anchor="end" fill="#231815" >(mM Mannitol)</text>
<text x="0" y="0" font-size="31.3" text-anchor="end" fill="#231815" transform="translate(550.5 1067.2) rotate(-90)">Relative Root Length</text>
<polyline points="666.3,1136 746.6,1166.63 826.9,1214.93 907.2,1338.69 987.5,1365.83" fill="none" stroke="#c0c0c0" stroke-width="2.6" stroke-linejoin="miter"/>
<line x1="666.3" y1="1123.55" x2="666.3" y2="1148.45" stroke="#c0c0c0" stroke-width="2.0" />
<line x1="662.8" y1="1123.55" x2="669.8" y2="1123.55" stroke="#c0c0c0" stroke-width="2.0" />
<line x1="662.8" y1="1148.45" x2="669.8" y2="1148.45" stroke="#c0c0c0" stroke-width="2.0" />
<line x1="907.2" y1="1336.2" x2="907.2" y2="1341.18" stroke="#c0c0c0" stroke-width="2.0" />
<line x1="903.7" y1="1336.2" x2="910.7" y2="1336.2" stroke="#c0c0c0" stroke-width="2.0" />
<line x1="903.7" y1="1341.18" x2="910.7" y2="1341.18" stroke="#c0c0c0" stroke-width="2.0" />
<line x1="987.5" y1="1360.85" x2="987.5" y2="1370.81" stroke="#c0c0c0" stroke-width="2.0" />
<line x1="984" y1="1360.85" x2="991" y2="1360.85" stroke="#c0c0c0" stroke-width="2.0" />
<line x1="984" y1="1370.81" x2="991" y2="1370.81" stroke="#c0c0c0" stroke-width="2.0" />
<circle cx="666.3" cy="1136" r="5.2" fill="#c0c0c0"/>
<circle cx="746.6" cy="1166.63" r="5.2" fill="#c0c0c0"/>
<circle cx="826.9" cy="1214.93" r="5.2" fill="#c0c0c0"/>
<circle cx="907.2" cy="1338.69" r="5.2" fill="#c0c0c0"/>
<circle cx="987.5" cy="1365.83" r="5.2" fill="#c0c0c0"/>
<polyline points="666.3,1136 746.6,1171.11 826.9,1238.34 907.2,1321.51 987.5,1364.08" fill="none" stroke="#000000" stroke-width="2.6" stroke-linejoin="miter"/>
<line x1="666.3" y1="1131.02" x2="666.3" y2="1140.98" stroke="#000000" stroke-width="2.0" />
<line x1="662.8" y1="1131.02" x2="669.8" y2="1131.02" stroke="#000000" stroke-width="2.0" />
<line x1="662.8" y1="1140.98" x2="669.8" y2="1140.98" stroke="#000000" stroke-width="2.0" />
<line x1="746.6" y1="1168.62" x2="746.6" y2="1173.6" stroke="#000000" stroke-width="2.0" />
<line x1="743.1" y1="1168.62" x2="750.1" y2="1168.62" stroke="#000000" stroke-width="2.0" />
<line x1="743.1" y1="1173.6" x2="750.1" y2="1173.6" stroke="#000000" stroke-width="2.0" />
<line x1="826.9" y1="1227.63" x2="826.9" y2="1249.05" stroke="#000000" stroke-width="2.0" />
<line x1="823.4" y1="1227.63" x2="830.4" y2="1227.63" stroke="#000000" stroke-width="2.0" />
<line x1="823.4" y1="1249.05" x2="830.4" y2="1249.05" stroke="#000000" stroke-width="2.0" />
<line x1="907.2" y1="1309.8" x2="907.2" y2="1333.21" stroke="#000000" stroke-width="2.0" />
<line x1="903.7" y1="1309.8" x2="910.7" y2="1309.8" stroke="#000000" stroke-width="2.0" />
<line x1="903.7" y1="1333.21" x2="910.7" y2="1333.21" stroke="#000000" stroke-width="2.0" />
<line x1="987.5" y1="1359.1" x2="987.5" y2="1369.06" stroke="#000000" stroke-width="2.0" />
<line x1="984" y1="1359.1" x2="991" y2="1359.1" stroke="#000000" stroke-width="2.0" />
<line x1="984" y1="1369.06" x2="991" y2="1369.06" stroke="#000000" stroke-width="2.0" />
<rect x="661.3" y="1131" width="10" height="10" fill="#000000" />
<rect x="741.6" y="1166.11" width="10" height="10" fill="#000000" />
<rect x="821.9" y="1233.34" width="10" height="10" fill="#000000" />
<rect x="902.2" y="1316.51" width="10" height="10" fill="#000000" />
<rect x="982.5" y="1359.08" width="10" height="10" fill="#000000" />
<polyline points="666.3,1136 746.6,1156.67 826.9,1185.55 907.2,1293.37 987.5,1333.21" fill="none" stroke="#e07b25" stroke-width="2.6" stroke-linejoin="miter"/>
<line x1="666.3" y1="1131.02" x2="666.3" y2="1140.98" stroke="#e07b25" stroke-width="2.0" />
<line x1="662.8" y1="1131.02" x2="669.8" y2="1131.02" stroke="#e07b25" stroke-width="2.0" />
<line x1="662.8" y1="1140.98" x2="669.8" y2="1140.98" stroke="#e07b25" stroke-width="2.0" />
<line x1="746.6" y1="1153.68" x2="746.6" y2="1159.65" stroke="#e07b25" stroke-width="2.0" />
<line x1="743.1" y1="1153.68" x2="750.1" y2="1153.68" stroke="#e07b25" stroke-width="2.0" />
<line x1="743.1" y1="1159.65" x2="750.1" y2="1159.65" stroke="#e07b25" stroke-width="2.0" />
<line x1="826.9" y1="1182.56" x2="826.9" y2="1188.54" stroke="#e07b25" stroke-width="2.0" />
<line x1="823.4" y1="1182.56" x2="830.4" y2="1182.56" stroke="#e07b25" stroke-width="2.0" />
<line x1="823.4" y1="1188.54" x2="830.4" y2="1188.54" stroke="#e07b25" stroke-width="2.0" />
<line x1="907.2" y1="1288.89" x2="907.2" y2="1297.85" stroke="#e07b25" stroke-width="2.0" />
<line x1="903.7" y1="1288.89" x2="910.7" y2="1288.89" stroke="#e07b25" stroke-width="2.0" />
<line x1="903.7" y1="1297.85" x2="910.7" y2="1297.85" stroke="#e07b25" stroke-width="2.0" />
<line x1="987.5" y1="1330.22" x2="987.5" y2="1336.2" stroke="#e07b25" stroke-width="2.0" />
<line x1="984" y1="1330.22" x2="991" y2="1330.22" stroke="#e07b25" stroke-width="2.0" />
<line x1="984" y1="1336.2" x2="991" y2="1336.2" stroke="#e07b25" stroke-width="2.0" />
<polygon points="666.3,1129.5 672.8,1136 666.3,1142.5 659.8,1136" fill="#e07b25"/>
<polygon points="746.6,1150.17 753.1,1156.67 746.6,1163.17 740.1,1156.67" fill="#e07b25"/>
<polygon points="826.9,1179.05 833.4,1185.55 826.9,1192.05 820.4,1185.55" fill="#e07b25"/>
<polygon points="907.2,1286.87 913.7,1293.37 907.2,1299.87 900.7,1293.37" fill="#e07b25"/>
<polygon points="987.5,1326.71 994,1333.21 987.5,1339.71 981,1333.21" fill="#e07b25"/>
<polyline points="666.3,1136 746.6,1138.74 826.9,1174.1 907.2,1269.96 987.5,1323.5" fill="none" stroke="#163f6c" stroke-width="2.6" stroke-linejoin="miter"/>
<line x1="666.3" y1="1116.83" x2="666.3" y2="1155.17" stroke="#163f6c" stroke-width="2.0" />
<line x1="662.8" y1="1116.83" x2="669.8" y2="1116.83" stroke="#163f6c" stroke-width="2.0" />
<line x1="662.8" y1="1155.17" x2="669.8" y2="1155.17" stroke="#163f6c" stroke-width="2.0" />
<line x1="746.6" y1="1130.02" x2="746.6" y2="1147.45" stroke="#163f6c" stroke-width="2.0" />
<line x1="743.1" y1="1130.02" x2="750.1" y2="1130.02" stroke="#163f6c" stroke-width="2.0" />
<line x1="743.1" y1="1147.45" x2="750.1" y2="1147.45" stroke="#163f6c" stroke-width="2.0" />
<line x1="826.9" y1="1166.63" x2="826.9" y2="1181.57" stroke="#163f6c" stroke-width="2.0" />
<line x1="823.4" y1="1166.63" x2="830.4" y2="1166.63" stroke="#163f6c" stroke-width="2.0" />
<line x1="823.4" y1="1181.57" x2="830.4" y2="1181.57" stroke="#163f6c" stroke-width="2.0" />
<line x1="907.2" y1="1260" x2="907.2" y2="1279.92" stroke="#163f6c" stroke-width="2.0" />
<line x1="903.7" y1="1260" x2="910.7" y2="1260" stroke="#163f6c" stroke-width="2.0" />
<line x1="903.7" y1="1279.92" x2="910.7" y2="1279.92" stroke="#163f6c" stroke-width="2.0" />
<line x1="987.5" y1="1319.76" x2="987.5" y2="1327.23" stroke="#163f6c" stroke-width="2.0" />
<line x1="984" y1="1319.76" x2="991" y2="1319.76" stroke="#163f6c" stroke-width="2.0" />
<line x1="984" y1="1327.23" x2="991" y2="1327.23" stroke="#163f6c" stroke-width="2.0" />
<polygon points="666.3,1129 672.8,1141 659.8,1141" fill="#163f6c"/>
<polygon points="746.6,1131.74 753.1,1143.74 740.1,1143.74" fill="#163f6c"/>
<polygon points="826.9,1167.1 833.4,1179.1 820.4,1179.1" fill="#163f6c"/>
<polygon points="907.2,1262.96 913.7,1274.96 900.7,1274.96" fill="#163f6c"/>
<polygon points="987.5,1316.5 994,1328.5 981,1328.5" fill="#163f6c"/>
<text x="908.8" y="1241.7" font-size="27" font-weight="normal" text-anchor="middle" fill="#e07b25" stroke="#e07b25" stroke-width="0.25" transform="rotate(14 908.8 1225.9)">*</text>
<text x="908.9" y="1262.8" font-size="27" font-weight="normal" text-anchor="middle" fill="#163f6c" stroke="#163f6c" stroke-width="0.25" transform="rotate(14 908.9 1247)">*</text>
<text x="989.2" y="1300.5" font-size="27" font-weight="normal" text-anchor="middle" fill="#e07b25" stroke="#e07b25" stroke-width="0.25" transform="rotate(14 989.2 1284.7)">*</text>
<text x="989.2" y="1319.7" font-size="27" font-weight="normal" text-anchor="middle" fill="#163f6c" stroke="#163f6c" stroke-width="0.25" transform="rotate(14 989.2 1303.9)">*</text>
<text x="995" y="1033.8" font-size="33" text-anchor="start" fill="#000" >D</text>
<line x1="1121.8" y1="1085.5" x2="1121.8" y2="1386.2" stroke="#0d0d0d" stroke-width="2.5" />
<line x1="1120.6" y1="1385" x2="1523.7" y2="1385" stroke="#0d0d0d" stroke-width="2.6" />
<line x1="1121.8" y1="1385" x2="1128.8" y2="1385" stroke="#0d0d0d" stroke-width="2.4" />
<text x="1107.6" y="1397.2" font-size="31.3" text-anchor="end" fill="#231815" >0</text>
<line x1="1121.8" y1="1335.2" x2="1128.8" y2="1335.2" stroke="#0d0d0d" stroke-width="2.4" />
<text x="1107.6" y="1347.4" font-size="31.3" text-anchor="end" fill="#231815" >0.2</text>
<line x1="1121.8" y1="1285.4" x2="1128.8" y2="1285.4" stroke="#0d0d0d" stroke-width="2.4" />
<text x="1107.6" y="1297.6" font-size="31.3" text-anchor="end" fill="#231815" >0.4</text>
<line x1="1121.8" y1="1235.6" x2="1128.8" y2="1235.6" stroke="#0d0d0d" stroke-width="2.4" />
<text x="1107.6" y="1247.8" font-size="31.3" text-anchor="end" fill="#231815" >0.6</text>
<line x1="1121.8" y1="1185.8" x2="1128.8" y2="1185.8" stroke="#0d0d0d" stroke-width="2.4" />
<text x="1107.6" y="1198" font-size="31.3" text-anchor="end" fill="#231815" >0.8</text>
<line x1="1121.8" y1="1136" x2="1128.8" y2="1136" stroke="#0d0d0d" stroke-width="2.4" />
<text x="1107.6" y="1148.2" font-size="31.3" text-anchor="end" fill="#231815" >1.0</text>
<line x1="1121.8" y1="1086.2" x2="1128.8" y2="1086.2" stroke="#0d0d0d" stroke-width="2.4" />
<text x="1107.6" y="1098.4" font-size="31.3" text-anchor="end" fill="#231815" >1.2</text>
<line x1="1162.1" y1="1385" x2="1162.1" y2="1378" stroke="#0d0d0d" stroke-width="2.4" />
<text x="1162.4" y="1422.2" font-size="31.3" text-anchor="middle" fill="#231815" >0</text>
<line x1="1242.4" y1="1385" x2="1242.4" y2="1378" stroke="#0d0d0d" stroke-width="2.4" />
<text x="1242.7" y="1423.5" font-size="31.3" text-anchor="middle" fill="#231815" >50</text>
<line x1="1322.7" y1="1385" x2="1322.7" y2="1378" stroke="#0d0d0d" stroke-width="2.4" />
<text x="1323" y="1423.5" font-size="31.3" text-anchor="middle" fill="#231815" >100</text>
<line x1="1403" y1="1385" x2="1403" y2="1378" stroke="#0d0d0d" stroke-width="2.4" />
<text x="1403.3" y="1423.5" font-size="31.3" text-anchor="middle" fill="#231815" >125</text>
<line x1="1483.3" y1="1385" x2="1483.3" y2="1378" stroke="#0d0d0d" stroke-width="2.4" />
<text x="1483.6" y="1423.5" font-size="31.3" text-anchor="middle" fill="#231815" >150</text>
<text x="1541.5" y="1461" font-size="31.3" text-anchor="end" fill="#231815" >(mM NaCl)</text>
<text x="0" y="0" font-size="31.3" text-anchor="end" fill="#231815" transform="translate(1043.6 1067.2) rotate(-90)">Relative Root Length</text>
<polyline points="1162.1,1136 1242.4,1149.69 1322.7,1329.97 1403,1355.12 1483.3,1363.34" fill="none" stroke="#c0c0c0" stroke-width="2.6" stroke-linejoin="miter"/>
<line x1="1162.1" y1="1123.55" x2="1162.1" y2="1148.45" stroke="#c0c0c0" stroke-width="2.0" />
<line x1="1158.6" y1="1123.55" x2="1165.6" y2="1123.55" stroke="#c0c0c0" stroke-width="2.0" />
<line x1="1158.6" y1="1148.45" x2="1165.6" y2="1148.45" stroke="#c0c0c0" stroke-width="2.0" />
<line x1="1242.4" y1="1144.71" x2="1242.4" y2="1154.67" stroke="#c0c0c0" stroke-width="2.0" />
<line x1="1238.9" y1="1144.71" x2="1245.9" y2="1144.71" stroke="#c0c0c0" stroke-width="2.0" />
<line x1="1238.9" y1="1154.67" x2="1245.9" y2="1154.67" stroke="#c0c0c0" stroke-width="2.0" />
<line x1="1322.7" y1="1322.5" x2="1322.7" y2="1337.44" stroke="#c0c0c0" stroke-width="2.0" />
<line x1="1319.2" y1="1322.5" x2="1326.2" y2="1322.5" stroke="#c0c0c0" stroke-width="2.0" />
<line x1="1319.2" y1="1337.44" x2="1326.2" y2="1337.44" stroke="#c0c0c0" stroke-width="2.0" />
<line x1="1403" y1="1350.14" x2="1403" y2="1360.1" stroke="#c0c0c0" stroke-width="2.0" />
<line x1="1399.5" y1="1350.14" x2="1406.5" y2="1350.14" stroke="#c0c0c0" stroke-width="2.0" />
<line x1="1399.5" y1="1360.1" x2="1406.5" y2="1360.1" stroke="#c0c0c0" stroke-width="2.0" />
<line x1="1483.3" y1="1360.85" x2="1483.3" y2="1365.83" stroke="#c0c0c0" stroke-width="2.0" />
<line x1="1479.8" y1="1360.85" x2="1486.8" y2="1360.85" stroke="#c0c0c0" stroke-width="2.0" />
<line x1="1479.8" y1="1365.83" x2="1486.8" y2="1365.83" stroke="#c0c0c0" stroke-width="2.0" />
<circle cx="1162.1" cy="1136" r="5.2" fill="#c0c0c0"/>
<circle cx="1242.4" cy="1149.69" r="5.2" fill="#c0c0c0"/>
<circle cx="1322.7" cy="1329.97" r="5.2" fill="#c0c0c0"/>
<circle cx="1403" cy="1355.12" r="5.2" fill="#c0c0c0"/>
<circle cx="1483.3" cy="1363.34" r="5.2" fill="#c0c0c0"/>
<polyline points="1162.1,1136 1242.4,1172.6 1322.7,1347.9 1403,1351.38 1483.3,1359.85" fill="none" stroke="#000000" stroke-width="2.6" stroke-linejoin="miter"/>
<line x1="1162.1" y1="1131.02" x2="1162.1" y2="1140.98" stroke="#000000" stroke-width="2.0" />
<line x1="1158.6" y1="1131.02" x2="1165.6" y2="1131.02" stroke="#000000" stroke-width="2.0" />
<line x1="1158.6" y1="1140.98" x2="1165.6" y2="1140.98" stroke="#000000" stroke-width="2.0" />
<line x1="1242.4" y1="1167.62" x2="1242.4" y2="1177.58" stroke="#000000" stroke-width="2.0" />
<line x1="1238.9" y1="1167.62" x2="1245.9" y2="1167.62" stroke="#000000" stroke-width="2.0" />
<line x1="1238.9" y1="1177.58" x2="1245.9" y2="1177.58" stroke="#000000" stroke-width="2.0" />
<line x1="1322.7" y1="1340.43" x2="1322.7" y2="1355.37" stroke="#000000" stroke-width="2.0" />
<line x1="1319.2" y1="1340.43" x2="1326.2" y2="1340.43" stroke="#000000" stroke-width="2.0" />
<line x1="1319.2" y1="1355.37" x2="1326.2" y2="1355.37" stroke="#000000" stroke-width="2.0" />
<line x1="1403" y1="1348.89" x2="1403" y2="1353.88" stroke="#000000" stroke-width="2.0" />
<line x1="1399.5" y1="1348.89" x2="1406.5" y2="1348.89" stroke="#000000" stroke-width="2.0" />
<line x1="1399.5" y1="1353.88" x2="1406.5" y2="1353.88" stroke="#000000" stroke-width="2.0" />
<line x1="1483.3" y1="1357.36" x2="1483.3" y2="1362.34" stroke="#000000" stroke-width="2.0" />
<line x1="1479.8" y1="1357.36" x2="1486.8" y2="1357.36" stroke="#000000" stroke-width="2.0" />
<line x1="1479.8" y1="1362.34" x2="1486.8" y2="1362.34" stroke="#000000" stroke-width="2.0" />
<rect x="1157.1" y="1131" width="10" height="10" fill="#000000" />
<rect x="1237.4" y="1167.6" width="10" height="10" fill="#000000" />
<rect x="1317.7" y="1342.9" width="10" height="10" fill="#000000" />
<rect x="1398" y="1346.38" width="10" height="10" fill="#000000" />
<rect x="1478.3" y="1354.85" width="10" height="10" fill="#000000" />
<polyline points="1162.1,1136 1242.4,1169.37 1322.7,1272.2 1403,1334.45 1483.3,1342.92" fill="none" stroke="#e07b25" stroke-width="2.6" stroke-linejoin="miter"/>
<line x1="1162.1" y1="1131.02" x2="1162.1" y2="1140.98" stroke="#e07b25" stroke-width="2.0" />
<line x1="1158.6" y1="1131.02" x2="1165.6" y2="1131.02" stroke="#e07b25" stroke-width="2.0" />
<line x1="1158.6" y1="1140.98" x2="1165.6" y2="1140.98" stroke="#e07b25" stroke-width="2.0" />
<line x1="1242.4" y1="1165.63" x2="1242.4" y2="1173.1" stroke="#e07b25" stroke-width="2.0" />
<line x1="1238.9" y1="1165.63" x2="1245.9" y2="1165.63" stroke="#e07b25" stroke-width="2.0" />
<line x1="1238.9" y1="1173.1" x2="1245.9" y2="1173.1" stroke="#e07b25" stroke-width="2.0" />
<line x1="1322.7" y1="1269.21" x2="1322.7" y2="1275.19" stroke="#e07b25" stroke-width="2.0" />
<line x1="1319.2" y1="1269.21" x2="1326.2" y2="1269.21" stroke="#e07b25" stroke-width="2.0" />
<line x1="1319.2" y1="1275.19" x2="1326.2" y2="1275.19" stroke="#e07b25" stroke-width="2.0" />
<line x1="1403" y1="1331.96" x2="1403" y2="1336.94" stroke="#e07b25" stroke-width="2.0" />
<line x1="1399.5" y1="1331.96" x2="1406.5" y2="1331.96" stroke="#e07b25" stroke-width="2.0" />
<line x1="1399.5" y1="1336.94" x2="1406.5" y2="1336.94" stroke="#e07b25" stroke-width="2.0" />
<line x1="1483.3" y1="1337.94" x2="1483.3" y2="1347.9" stroke="#e07b25" stroke-width="2.0" />
<line x1="1479.8" y1="1337.94" x2="1486.8" y2="1337.94" stroke="#e07b25" stroke-width="2.0" />
<line x1="1479.8" y1="1347.9" x2="1486.8" y2="1347.9" stroke="#e07b25" stroke-width="2.0" />
<polygon points="1162.1,1129.5 1168.6,1136 1162.1,1142.5 1155.6,1136" fill="#e07b25"/>
<polygon points="1242.4,1162.87 1248.9,1169.37 1242.4,1175.87 1235.9,1169.37" fill="#e07b25"/>
<polygon points="1322.7,1265.7 1329.2,1272.2 1322.7,1278.7 1316.2,1272.2" fill="#e07b25"/>
<polygon points="1403,1327.95 1409.5,1334.45 1403,1340.95 1396.5,1334.45" fill="#e07b25"/>
<polygon points="1483.3,1336.42 1489.8,1342.92 1483.3,1349.42 1476.8,1342.92" fill="#e07b25"/>
<polyline points="1162.1,1136 1242.4,1143.47 1322.7,1295.61 1403,1315.78 1483.3,1325.99" fill="none" stroke="#163f6c" stroke-width="2.6" stroke-linejoin="miter"/>
<line x1="1162.1" y1="1116.83" x2="1162.1" y2="1155.17" stroke="#163f6c" stroke-width="2.0" />
<line x1="1158.6" y1="1116.83" x2="1165.6" y2="1116.83" stroke="#163f6c" stroke-width="2.0" />
<line x1="1158.6" y1="1155.17" x2="1165.6" y2="1155.17" stroke="#163f6c" stroke-width="2.0" />
<line x1="1242.4" y1="1134.76" x2="1242.4" y2="1152.18" stroke="#163f6c" stroke-width="2.0" />
<line x1="1238.9" y1="1134.76" x2="1245.9" y2="1134.76" stroke="#163f6c" stroke-width="2.0" />
<line x1="1238.9" y1="1152.18" x2="1245.9" y2="1152.18" stroke="#163f6c" stroke-width="2.0" />
<line x1="1322.7" y1="1290.63" x2="1322.7" y2="1300.59" stroke="#163f6c" stroke-width="2.0" />
<line x1="1319.2" y1="1290.63" x2="1326.2" y2="1290.63" stroke="#163f6c" stroke-width="2.0" />
<line x1="1319.2" y1="1300.59" x2="1326.2" y2="1300.59" stroke="#163f6c" stroke-width="2.0" />
<line x1="1403" y1="1312.79" x2="1403" y2="1318.77" stroke="#163f6c" stroke-width="2.0" />
<line x1="1399.5" y1="1312.79" x2="1406.5" y2="1312.79" stroke="#163f6c" stroke-width="2.0" />
<line x1="1399.5" y1="1318.77" x2="1406.5" y2="1318.77" stroke="#163f6c" stroke-width="2.0" />
<line x1="1483.3" y1="1322.25" x2="1483.3" y2="1329.72" stroke="#163f6c" stroke-width="2.0" />
<line x1="1479.8" y1="1322.25" x2="1486.8" y2="1322.25" stroke="#163f6c" stroke-width="2.0" />
<line x1="1479.8" y1="1329.72" x2="1486.8" y2="1329.72" stroke="#163f6c" stroke-width="2.0" />
<polygon points="1162.1,1129 1168.6,1141 1155.6,1141" fill="#163f6c"/>
<polygon points="1242.4,1136.47 1248.9,1148.47 1235.9,1148.47" fill="#163f6c"/>
<polygon points="1322.7,1288.61 1329.2,1300.61 1316.2,1300.61" fill="#163f6c"/>
<polygon points="1403,1308.78 1409.5,1320.78 1396.5,1320.78" fill="#163f6c"/>
<polygon points="1483.3,1318.99 1489.8,1330.99 1476.8,1330.99" fill="#163f6c"/>
<text x="1401.6" y="1289.3" font-size="27" font-weight="normal" text-anchor="middle" fill="#e07b25" stroke="#e07b25" stroke-width="0.25" transform="rotate(14 1401.6 1273.5)">*</text>
<text x="1401.6" y="1310.89" font-size="27" font-weight="normal" text-anchor="middle" fill="#163f6c" stroke="#163f6c" stroke-width="0.25" transform="rotate(14 1401.6 1295.1)">*</text>
<text x="1483" y="1301.89" font-size="27" font-weight="normal" text-anchor="middle" fill="#e07b25" stroke="#e07b25" stroke-width="0.25" transform="rotate(14 1483 1286.1)">*</text>
<text x="1483" y="1323.5" font-size="27" font-weight="normal" text-anchor="middle" fill="#163f6c" stroke="#163f6c" stroke-width="0.25" transform="rotate(14 1483 1307.7)">*</text>
<text x="18" y="1471.8" font-size="33" text-anchor="start" fill="#000" >E</text>
<rect x="124.9" y="1593.2" width="13.3" height="262.3" fill="#174a70" stroke="#0d0d0d" stroke-width="2.5" />
<rect x="138.2" y="1593.2" width="13.3" height="262.3" fill="#2a8cbd" stroke="#0d0d0d" stroke-width="2.5" />
<rect x="151.5" y="1593.2" width="13.3" height="262.3" fill="#a6dce0" stroke="#0d0d0d" stroke-width="2.5" />
<rect x="164.8" y="1593.2" width="13.3" height="262.3" fill="#e5812c" stroke="#0d0d0d" stroke-width="2.5" />
<rect x="178.1" y="1593.2" width="13.3" height="262.3" fill="#e6d54f" stroke="#0d0d0d" stroke-width="2.5" />
<rect x="191.4" y="1593.2" width="13.3" height="262.3" fill="#fbf07a" stroke="#0d0d0d" stroke-width="2.5" />
<rect x="204.7" y="1593.2" width="13.3" height="262.3" fill="#000000" stroke="#0d0d0d" stroke-width="2.5" />
<rect x="218" y="1593.2" width="13.3" height="262.3" fill="#ffffff" stroke="#0d0d0d" stroke-width="2.5" />
<rect x="259.2" y="1609.62" width="13.3" height="245.88" fill="#174a70" stroke="#0d0d0d" stroke-width="2.5" />
<rect x="272.5" y="1628.97" width="13.3" height="226.53" fill="#2a8cbd" stroke="#0d0d0d" stroke-width="2.5" />
<rect x="285.8" y="1623.13" width="13.3" height="232.37" fill="#a6dce0" stroke="#0d0d0d" stroke-width="2.5" />
<rect x="299.1" y="1606.34" width="13.3" height="249.16" fill="#e5812c" stroke="#0d0d0d" stroke-width="2.5" />
<rect x="312.4" y="1630.8" width="13.3" height="224.7" fill="#e6d54f" stroke="#0d0d0d" stroke-width="2.5" />
<rect x="325.7" y="1636.63" width="13.3" height="218.87" fill="#fbf07a" stroke="#0d0d0d" stroke-width="2.5" />
<rect x="339" y="1795.58" width="13.3" height="59.92" fill="#000000" stroke="#0d0d0d" stroke-width="2.5" />
<rect x="352.3" y="1815.8" width="13.3" height="39.7" fill="#ffffff" stroke="#0d0d0d" stroke-width="2.5" />
<line x1="265.85" y1="1592.84" x2="265.85" y2="1626.41" stroke="#0d0d0d" stroke-width="1.8" />
<line x1="262.35" y1="1592.84" x2="269.35" y2="1592.84" stroke="#0d0d0d" stroke-width="1.8" />
<line x1="262.35" y1="1626.41" x2="269.35" y2="1626.41" stroke="#0d0d0d" stroke-width="1.8" />
<line x1="279.15" y1="1596.85" x2="279.15" y2="1661.09" stroke="#0d0d0d" stroke-width="1.8" />
<line x1="275.65" y1="1596.85" x2="282.65" y2="1596.85" stroke="#0d0d0d" stroke-width="1.8" />
<line x1="275.65" y1="1661.09" x2="282.65" y2="1661.09" stroke="#0d0d0d" stroke-width="1.8" />
<line x1="292.45" y1="1594.3" x2="292.45" y2="1651.97" stroke="#0d0d0d" stroke-width="1.8" />
<line x1="288.95" y1="1594.3" x2="295.95" y2="1594.3" stroke="#0d0d0d" stroke-width="1.8" />
<line x1="288.95" y1="1651.97" x2="295.95" y2="1651.97" stroke="#0d0d0d" stroke-width="1.8" />
<line x1="305.75" y1="1593.57" x2="305.75" y2="1619.12" stroke="#0d0d0d" stroke-width="1.8" />
<line x1="302.25" y1="1593.57" x2="309.25" y2="1593.57" stroke="#0d0d0d" stroke-width="1.8" />
<line x1="302.25" y1="1619.12" x2="309.25" y2="1619.12" stroke="#0d0d0d" stroke-width="1.8" />
<line x1="319.05" y1="1603.06" x2="319.05" y2="1658.54" stroke="#0d0d0d" stroke-width="1.8" />
<line x1="315.55" y1="1603.06" x2="322.55" y2="1603.06" stroke="#0d0d0d" stroke-width="1.8" />
<line x1="315.55" y1="1658.54" x2="322.55" y2="1658.54" stroke="#0d0d0d" stroke-width="1.8" />
<line x1="332.35" y1="1604.52" x2="332.35" y2="1668.76" stroke="#0d0d0d" stroke-width="1.8" />
<line x1="328.85" y1="1604.52" x2="335.85" y2="1604.52" stroke="#0d0d0d" stroke-width="1.8" />
<line x1="328.85" y1="1668.76" x2="335.85" y2="1668.76" stroke="#0d0d0d" stroke-width="1.8" />
<line x1="345.65" y1="1773.53" x2="345.65" y2="1817.64" stroke="#0d0d0d" stroke-width="1.8" />
<line x1="342.15" y1="1773.53" x2="349.15" y2="1773.53" stroke="#0d0d0d" stroke-width="1.8" />
<line x1="342.15" y1="1817.64" x2="349.15" y2="1817.64" stroke="#0d0d0d" stroke-width="1.8" />
<line x1="358.95" y1="1799.26" x2="358.95" y2="1832.34" stroke="#0d0d0d" stroke-width="1.8" />
<line x1="355.45" y1="1799.26" x2="362.45" y2="1799.26" stroke="#0d0d0d" stroke-width="1.8" />
<line x1="355.45" y1="1832.34" x2="362.45" y2="1832.34" stroke="#0d0d0d" stroke-width="1.8" />
<rect x="393" y="1619.85" width="13.3" height="235.65" fill="#174a70" stroke="#0d0d0d" stroke-width="2.5" />
<rect x="406.3" y="1637.73" width="13.3" height="217.77" fill="#2a8cbd" stroke="#0d0d0d" stroke-width="2.5" />
<rect x="419.6" y="1639.92" width="13.3" height="215.58" fill="#a6dce0" stroke="#0d0d0d" stroke-width="2.5" />
<rect x="432.9" y="1620.58" width="13.3" height="234.92" fill="#e5812c" stroke="#0d0d0d" stroke-width="2.5" />
<rect x="446.2" y="1643.21" width="13.3" height="212.29" fill="#e6d54f" stroke="#0d0d0d" stroke-width="2.5" />
<rect x="459.5" y="1629.7" width="13.3" height="225.8" fill="#fbf07a" stroke="#0d0d0d" stroke-width="2.5" />
<rect x="472.8" y="1801.28" width="13.3" height="54.22" fill="#000000" stroke="#0d0d0d" stroke-width="2.5" />
<rect x="486.1" y="1831.61" width="13.3" height="23.89" fill="#ffffff" stroke="#0d0d0d" stroke-width="2.5" />
<line x1="399.65" y1="1592.11" x2="399.65" y2="1647.59" stroke="#0d0d0d" stroke-width="1.8" />
<line x1="396.15" y1="1592.11" x2="403.15" y2="1592.11" stroke="#0d0d0d" stroke-width="1.8" />
<line x1="396.15" y1="1647.59" x2="403.15" y2="1647.59" stroke="#0d0d0d" stroke-width="1.8" />
<line x1="412.95" y1="1615.1" x2="412.95" y2="1660.36" stroke="#0d0d0d" stroke-width="1.8" />
<line x1="409.45" y1="1615.1" x2="416.45" y2="1615.1" stroke="#0d0d0d" stroke-width="1.8" />
<line x1="409.45" y1="1660.36" x2="416.45" y2="1660.36" stroke="#0d0d0d" stroke-width="1.8" />
<line x1="426.25" y1="1617.29" x2="426.25" y2="1662.55" stroke="#0d0d0d" stroke-width="1.8" />
<line x1="422.75" y1="1617.29" x2="429.75" y2="1617.29" stroke="#0d0d0d" stroke-width="1.8" />
<line x1="422.75" y1="1662.55" x2="429.75" y2="1662.55" stroke="#0d0d0d" stroke-width="1.8" />
<line x1="439.55" y1="1591.38" x2="439.55" y2="1649.78" stroke="#0d0d0d" stroke-width="1.8" />
<line x1="436.05" y1="1591.38" x2="443.05" y2="1591.38" stroke="#0d0d0d" stroke-width="1.8" />
<line x1="436.05" y1="1649.78" x2="443.05" y2="1649.78" stroke="#0d0d0d" stroke-width="1.8" />
<line x1="452.85" y1="1612.91" x2="452.85" y2="1673.5" stroke="#0d0d0d" stroke-width="1.8" />
<line x1="449.35" y1="1612.91" x2="456.35" y2="1612.91" stroke="#0d0d0d" stroke-width="1.8" />
<line x1="449.35" y1="1673.5" x2="456.35" y2="1673.5" stroke="#0d0d0d" stroke-width="1.8" />
<line x1="466.15" y1="1602.69" x2="466.15" y2="1656.71" stroke="#0d0d0d" stroke-width="1.8" />
<line x1="462.65" y1="1602.69" x2="469.65" y2="1602.69" stroke="#0d0d0d" stroke-width="1.8" />
<line x1="462.65" y1="1656.71" x2="469.65" y2="1656.71" stroke="#0d0d0d" stroke-width="1.8" />
<line x1="479.45" y1="1776.1" x2="479.45" y2="1826.46" stroke="#0d0d0d" stroke-width="1.8" />
<line x1="475.95" y1="1776.1" x2="482.95" y2="1776.1" stroke="#0d0d0d" stroke-width="1.8" />
<line x1="475.95" y1="1826.46" x2="482.95" y2="1826.46" stroke="#0d0d0d" stroke-width="1.8" />
<line x1="492.75" y1="1818.74" x2="492.75" y2="1844.47" stroke="#0d0d0d" stroke-width="1.8" />
<line x1="489.25" y1="1818.74" x2="496.25" y2="1818.74" stroke="#0d0d0d" stroke-width="1.8" />
<line x1="489.25" y1="1844.47" x2="496.25" y2="1844.47" stroke="#0d0d0d" stroke-width="1.8" />
<rect x="100" y="1703" width="420" height="5.1" fill="#ffffff" />
<line x1="111.6" y1="1556" x2="111.6" y2="1702.5" stroke="#0d0d0d" stroke-width="2.5" />
<line x1="111.6" y1="1708.5" x2="111.6" y2="1856.7" stroke="#0d0d0d" stroke-width="2.5" />
<line x1="105" y1="1705.3" x2="117.9" y2="1700.2" stroke="#0d0d0d" stroke-width="1.8" />
<line x1="105" y1="1710.7" x2="117.9" y2="1705.5" stroke="#0d0d0d" stroke-width="1.8" />
<line x1="110.4" y1="1855.5" x2="513.6" y2="1855.5" stroke="#0d0d0d" stroke-width="2.6" />
<line x1="178.1" y1="1855.5" x2="178.1" y2="1862.5" stroke="#0d0d0d" stroke-width="2.4" />
<text x="178.6" y="1892.7" font-size="31.3" text-anchor="middle" fill="#231815" >CK</text>
<line x1="312.4" y1="1855.5" x2="312.4" y2="1862.5" stroke="#0d0d0d" stroke-width="2.4" />
<text x="312.9" y="1892.7" font-size="31.3" text-anchor="middle" fill="#231815" >NaCl</text>
<line x1="446.2" y1="1855.5" x2="446.2" y2="1862.5" stroke="#0d0d0d" stroke-width="2.4" />
<text x="446.7" y="1892.7" font-size="31.3" text-anchor="middle" fill="#231815" >Mannitol</text>
<line x1="111.6" y1="1593.2" x2="118.4" y2="1593.2" stroke="#0d0d0d" stroke-width="2.4" />
<text x="101.2" y="1606" font-size="31.3" text-anchor="end" fill="#231815" >100</text>
<line x1="111.6" y1="1666.2" x2="118.4" y2="1666.2" stroke="#0d0d0d" stroke-width="2.4" />
<text x="101.2" y="1679.6" font-size="31.3" text-anchor="end" fill="#231815" >80</text>
<line x1="111.6" y1="1763.6" x2="118.4" y2="1763.6" stroke="#0d0d0d" stroke-width="2.4" />
<text x="101.2" y="1776.9" font-size="31.3" text-anchor="end" fill="#231815" >5</text>
<text x="101.2" y="1865.8" font-size="31.3" text-anchor="end" fill="#231815" >0</text>
<text x="0" y="0" font-size="31.3" text-anchor="end" fill="#231815" transform="translate(37.6 1586) rotate(-90)">Survive Rate (%)</text>
<line x1="258.8" y1="1567.2" x2="338.8" y2="1567.2" stroke="#231815" stroke-width="1.7" />
<polyline points="299.3,1567.2 299.3,1549 355.2,1549 355.2,1763.7" fill="none" stroke="#231815" stroke-width="1.7" stroke-linejoin="miter"/>
<line x1="343.5" y1="1763.7" x2="365.7" y2="1763.7" stroke="#231815" stroke-width="1.7" />
<text x="322.5" y="1553.1" font-size="26.5" font-weight="normal" text-anchor="middle" fill="#231815" transform="rotate(14 322.5 1537.6)">*</text>
<text x="335.4" y="1553.1" font-size="26.5" font-weight="normal" text-anchor="middle" fill="#231815" transform="rotate(14 335.4 1537.6)">*</text>
<line x1="393.3" y1="1567" x2="472.3" y2="1567" stroke="#231815" stroke-width="1.7" />
<polyline points="432.6,1567 432.6,1548.6 488,1548.6 488,1763" fill="none" stroke="#231815" stroke-width="1.7" stroke-linejoin="miter"/>
<line x1="477.3" y1="1763" x2="499.8" y2="1763" stroke="#231815" stroke-width="1.7" />
<text x="453.5" y="1553.1" font-size="26.5" font-weight="normal" text-anchor="middle" fill="#231815" transform="rotate(14 453.5 1537.6)">*</text>
<text x="466.4" y="1553.1" font-size="26.5" font-weight="normal" text-anchor="middle" fill="#231815" transform="rotate(14 466.4 1537.6)">*</text>
<text x="496" y="1471.8" font-size="33" text-anchor="start" fill="#000" >F</text>
<rect x="615.9" y="1620.09" width="13.3" height="235.01" fill="#174a70" stroke="#0d0d0d" stroke-width="2.5" />
<rect x="629.2" y="1604.32" width="13.3" height="250.78" fill="#2a8cbd" stroke="#0d0d0d" stroke-width="2.5" />
<rect x="642.5" y="1610.3" width="13.3" height="244.8" fill="#a6dce0" stroke="#0d0d0d" stroke-width="2.5" />
<rect x="655.8" y="1621.18" width="13.3" height="233.92" fill="#e5812c" stroke="#0d0d0d" stroke-width="2.5" />
<rect x="669.1" y="1623.36" width="13.3" height="231.74" fill="#e6d54f" stroke="#0d0d0d" stroke-width="2.5" />
<rect x="682.4" y="1614.65" width="13.3" height="240.45" fill="#fbf07a" stroke="#0d0d0d" stroke-width="2.5" />
<rect x="695.7" y="1638.59" width="13.3" height="216.51" fill="#000000" stroke="#0d0d0d" stroke-width="2.5" />
<rect x="709" y="1635.87" width="13.3" height="219.23" fill="#ffffff" stroke="#0d0d0d" stroke-width="2.5" />
<line x1="622.55" y1="1596.7" x2="622.55" y2="1643.48" stroke="#0d0d0d" stroke-width="1.8" />
<line x1="619.05" y1="1596.7" x2="626.05" y2="1596.7" stroke="#0d0d0d" stroke-width="1.8" />
<line x1="619.05" y1="1643.48" x2="626.05" y2="1643.48" stroke="#0d0d0d" stroke-width="1.8" />
<line x1="635.85" y1="1592.89" x2="635.85" y2="1615.74" stroke="#0d0d0d" stroke-width="1.8" />
<line x1="632.35" y1="1592.89" x2="639.35" y2="1592.89" stroke="#0d0d0d" stroke-width="1.8" />
<line x1="632.35" y1="1615.74" x2="639.35" y2="1615.74" stroke="#0d0d0d" stroke-width="1.8" />
<line x1="649.15" y1="1592.89" x2="649.15" y2="1627.71" stroke="#0d0d0d" stroke-width="1.8" />
<line x1="645.65" y1="1592.89" x2="652.65" y2="1592.89" stroke="#0d0d0d" stroke-width="1.8" />
<line x1="645.65" y1="1627.71" x2="652.65" y2="1627.71" stroke="#0d0d0d" stroke-width="1.8" />
<line x1="662.45" y1="1593.98" x2="662.45" y2="1648.38" stroke="#0d0d0d" stroke-width="1.8" />
<line x1="658.95" y1="1593.98" x2="665.95" y2="1593.98" stroke="#0d0d0d" stroke-width="1.8" />
<line x1="658.95" y1="1648.38" x2="665.95" y2="1648.38" stroke="#0d0d0d" stroke-width="1.8" />
<line x1="675.75" y1="1603.23" x2="675.75" y2="1643.48" stroke="#0d0d0d" stroke-width="1.8" />
<line x1="672.25" y1="1603.23" x2="679.25" y2="1603.23" stroke="#0d0d0d" stroke-width="1.8" />
<line x1="672.25" y1="1643.48" x2="679.25" y2="1643.48" stroke="#0d0d0d" stroke-width="1.8" />
<line x1="689.05" y1="1591.26" x2="689.05" y2="1638.04" stroke="#0d0d0d" stroke-width="1.8" />
<line x1="685.55" y1="1591.26" x2="692.55" y2="1591.26" stroke="#0d0d0d" stroke-width="1.8" />
<line x1="685.55" y1="1638.04" x2="692.55" y2="1638.04" stroke="#0d0d0d" stroke-width="1.8" />
<line x1="702.35" y1="1627.16" x2="702.35" y2="1650.01" stroke="#0d0d0d" stroke-width="1.8" />
<line x1="698.85" y1="1627.16" x2="705.85" y2="1627.16" stroke="#0d0d0d" stroke-width="1.8" />
<line x1="698.85" y1="1650.01" x2="705.85" y2="1650.01" stroke="#0d0d0d" stroke-width="1.8" />
<line x1="715.65" y1="1618.46" x2="715.65" y2="1653.28" stroke="#0d0d0d" stroke-width="1.8" />
<line x1="712.15" y1="1618.46" x2="719.15" y2="1618.46" stroke="#0d0d0d" stroke-width="1.8" />
<line x1="712.15" y1="1653.28" x2="719.15" y2="1653.28" stroke="#0d0d0d" stroke-width="1.8" />
<rect x="749.5" y="1644.57" width="13.3" height="210.53" fill="#174a70" stroke="#0d0d0d" stroke-width="2.5" />
<rect x="762.8" y="1640.22" width="13.3" height="214.88" fill="#2a8cbd" stroke="#0d0d0d" stroke-width="2.5" />
<rect x="776.1" y="1648.38" width="13.3" height="206.72" fill="#a6dce0" stroke="#0d0d0d" stroke-width="2.5" />
<rect x="789.4" y="1652.73" width="13.3" height="202.37" fill="#e5812c" stroke="#0d0d0d" stroke-width="2.5" />
<rect x="802.7" y="1652.19" width="13.3" height="202.91" fill="#e6d54f" stroke="#0d0d0d" stroke-width="2.5" />
<rect x="816" y="1658.17" width="13.3" height="196.93" fill="#fbf07a" stroke="#0d0d0d" stroke-width="2.5" />
<rect x="829.3" y="1846.94" width="13.3" height="8.16" fill="#000000" stroke="#0d0d0d" stroke-width="2.5" />
<rect x="842.6" y="1845.85" width="13.3" height="9.25" fill="#ffffff" stroke="#0d0d0d" stroke-width="2.5" />
<line x1="756.15" y1="1625.53" x2="756.15" y2="1663.61" stroke="#0d0d0d" stroke-width="1.8" />
<line x1="752.65" y1="1625.53" x2="759.65" y2="1625.53" stroke="#0d0d0d" stroke-width="1.8" />
<line x1="752.65" y1="1663.61" x2="759.65" y2="1663.61" stroke="#0d0d0d" stroke-width="1.8" />
<line x1="769.45" y1="1625.53" x2="769.45" y2="1654.91" stroke="#0d0d0d" stroke-width="1.8" />
<line x1="765.95" y1="1625.53" x2="772.95" y2="1625.53" stroke="#0d0d0d" stroke-width="1.8" />
<line x1="765.95" y1="1654.91" x2="772.95" y2="1654.91" stroke="#0d0d0d" stroke-width="1.8" />
<line x1="782.75" y1="1625.53" x2="782.75" y2="1671.23" stroke="#0d0d0d" stroke-width="1.8" />
<line x1="779.25" y1="1625.53" x2="786.25" y2="1625.53" stroke="#0d0d0d" stroke-width="1.8" />
<line x1="779.25" y1="1671.23" x2="786.25" y2="1671.23" stroke="#0d0d0d" stroke-width="1.8" />
<line x1="796.05" y1="1629.34" x2="796.05" y2="1676.12" stroke="#0d0d0d" stroke-width="1.8" />
<line x1="792.55" y1="1629.34" x2="799.55" y2="1629.34" stroke="#0d0d0d" stroke-width="1.8" />
<line x1="792.55" y1="1676.12" x2="799.55" y2="1676.12" stroke="#0d0d0d" stroke-width="1.8" />
<line x1="809.35" y1="1634.24" x2="809.35" y2="1670.14" stroke="#0d0d0d" stroke-width="1.8" />
<line x1="805.85" y1="1634.24" x2="812.85" y2="1634.24" stroke="#0d0d0d" stroke-width="1.8" />
<line x1="805.85" y1="1670.14" x2="812.85" y2="1670.14" stroke="#0d0d0d" stroke-width="1.8" />
<line x1="822.65" y1="1636.96" x2="822.65" y2="1679.39" stroke="#0d0d0d" stroke-width="1.8" />
<line x1="819.15" y1="1636.96" x2="826.15" y2="1636.96" stroke="#0d0d0d" stroke-width="1.8" />
<line x1="819.15" y1="1679.39" x2="826.15" y2="1679.39" stroke="#0d0d0d" stroke-width="1.8" />
<line x1="835.95" y1="1843.13" x2="835.95" y2="1850.75" stroke="#0d0d0d" stroke-width="1.8" />
<line x1="832.45" y1="1843.13" x2="839.45" y2="1843.13" stroke="#0d0d0d" stroke-width="1.8" />
<line x1="832.45" y1="1850.75" x2="839.45" y2="1850.75" stroke="#0d0d0d" stroke-width="1.8" />
<line x1="849.25" y1="1841.5" x2="849.25" y2="1850.2" stroke="#0d0d0d" stroke-width="1.8" />
<line x1="845.75" y1="1841.5" x2="852.75" y2="1841.5" stroke="#0d0d0d" stroke-width="1.8" />
<line x1="845.75" y1="1850.2" x2="852.75" y2="1850.2" stroke="#0d0d0d" stroke-width="1.8" />
<rect x="883.1" y="1658.17" width="13.3" height="196.93" fill="#174a70" stroke="#0d0d0d" stroke-width="2.5" />
<rect x="896.4" y="1658.17" width="13.3" height="196.93" fill="#2a8cbd" stroke="#0d0d0d" stroke-width="2.5" />
<rect x="909.7" y="1659.8" width="13.3" height="195.3" fill="#a6dce0" stroke="#0d0d0d" stroke-width="2.5" />
<rect x="923" y="1647.29" width="13.3" height="207.81" fill="#e5812c" stroke="#0d0d0d" stroke-width="2.5" />
<rect x="936.3" y="1660.35" width="13.3" height="194.75" fill="#e6d54f" stroke="#0d0d0d" stroke-width="2.5" />
<rect x="949.6" y="1669.05" width="13.3" height="186.05" fill="#fbf07a" stroke="#0d0d0d" stroke-width="2.5" />
<rect x="962.9" y="1791.45" width="13.3" height="63.65" fill="#000000" stroke="#0d0d0d" stroke-width="2.5" />
<rect x="976.2" y="1793.63" width="13.3" height="61.47" fill="#ffffff" stroke="#0d0d0d" stroke-width="2.5" />
<line x1="889.75" y1="1638.59" x2="889.75" y2="1677.76" stroke="#0d0d0d" stroke-width="1.8" />
<line x1="886.25" y1="1638.59" x2="893.25" y2="1638.59" stroke="#0d0d0d" stroke-width="1.8" />
<line x1="886.25" y1="1677.76" x2="893.25" y2="1677.76" stroke="#0d0d0d" stroke-width="1.8" />
<line x1="903.05" y1="1644.57" x2="903.05" y2="1671.77" stroke="#0d0d0d" stroke-width="1.8" />
<line x1="899.55" y1="1644.57" x2="906.55" y2="1644.57" stroke="#0d0d0d" stroke-width="1.8" />
<line x1="899.55" y1="1671.77" x2="906.55" y2="1671.77" stroke="#0d0d0d" stroke-width="1.8" />
<line x1="916.35" y1="1638.59" x2="916.35" y2="1681.02" stroke="#0d0d0d" stroke-width="1.8" />
<line x1="912.85" y1="1638.59" x2="919.85" y2="1638.59" stroke="#0d0d0d" stroke-width="1.8" />
<line x1="912.85" y1="1681.02" x2="919.85" y2="1681.02" stroke="#0d0d0d" stroke-width="1.8" />
<line x1="929.65" y1="1628.25" x2="929.65" y2="1666.33" stroke="#0d0d0d" stroke-width="1.8" />
<line x1="926.15" y1="1628.25" x2="933.15" y2="1628.25" stroke="#0d0d0d" stroke-width="1.8" />
<line x1="926.15" y1="1666.33" x2="933.15" y2="1666.33" stroke="#0d0d0d" stroke-width="1.8" />
<line x1="942.95" y1="1641.85" x2="942.95" y2="1678.84" stroke="#0d0d0d" stroke-width="1.8" />
<line x1="939.45" y1="1641.85" x2="946.45" y2="1641.85" stroke="#0d0d0d" stroke-width="1.8" />
<line x1="939.45" y1="1678.84" x2="946.45" y2="1678.84" stroke="#0d0d0d" stroke-width="1.8" />
<line x1="956.25" y1="1648.38" x2="956.25" y2="1689.72" stroke="#0d0d0d" stroke-width="1.8" />
<line x1="952.75" y1="1648.38" x2="959.75" y2="1648.38" stroke="#0d0d0d" stroke-width="1.8" />
<line x1="952.75" y1="1689.72" x2="959.75" y2="1689.72" stroke="#0d0d0d" stroke-width="1.8" />
<line x1="969.55" y1="1774.04" x2="969.55" y2="1808.86" stroke="#0d0d0d" stroke-width="1.8" />
<line x1="966.05" y1="1774.04" x2="973.05" y2="1774.04" stroke="#0d0d0d" stroke-width="1.8" />
<line x1="966.05" y1="1808.86" x2="973.05" y2="1808.86" stroke="#0d0d0d" stroke-width="1.8" />
<line x1="982.85" y1="1771.32" x2="982.85" y2="1815.93" stroke="#0d0d0d" stroke-width="1.8" />
<line x1="979.35" y1="1771.32" x2="986.35" y2="1771.32" stroke="#0d0d0d" stroke-width="1.8" />
<line x1="979.35" y1="1815.93" x2="986.35" y2="1815.93" stroke="#0d0d0d" stroke-width="1.8" />
<line x1="602.1" y1="1556" x2="602.1" y2="1856.3" stroke="#0d0d0d" stroke-width="2.5" />
<line x1="600.9" y1="1855.1" x2="1004.2" y2="1855.1" stroke="#0d0d0d" stroke-width="2.6" />
<line x1="669.1" y1="1855.1" x2="669.1" y2="1862.1" stroke="#0d0d0d" stroke-width="2.4" />
<text x="669.6" y="1892.6" font-size="31.3" text-anchor="middle" fill="#231815" >CK</text>
<line x1="802.7" y1="1855.1" x2="802.7" y2="1862.1" stroke="#0d0d0d" stroke-width="2.4" />
<text x="803.2" y="1892.6" font-size="31.3" text-anchor="middle" fill="#231815" >NaCl</text>
<line x1="936.3" y1="1855.1" x2="936.3" y2="1862.1" stroke="#0d0d0d" stroke-width="2.4" />
<text x="936.8" y="1892.6" font-size="31.3" text-anchor="middle" fill="#231815" >Mannitol</text>
<line x1="602.1" y1="1855.1" x2="609.1" y2="1855.1" stroke="#0d0d0d" stroke-width="2.4" />
<text x="586.4" y="1867.6" font-size="31.3" text-anchor="end" fill="#231815" >0</text>
<line x1="602.1" y1="1800.7" x2="609.1" y2="1800.7" stroke="#0d0d0d" stroke-width="2.4" />
<text x="586.4" y="1813.2" font-size="31.3" text-anchor="end" fill="#231815" >1</text>
<line x1="602.1" y1="1746.3" x2="609.1" y2="1746.3" stroke="#0d0d0d" stroke-width="2.4" />
<text x="586.4" y="1758.8" font-size="31.3" text-anchor="end" fill="#231815" >2</text>
<line x1="602.1" y1="1691.9" x2="609.1" y2="1691.9" stroke="#0d0d0d" stroke-width="2.4" />
<text x="586.4" y="1704.4" font-size="31.3" text-anchor="end" fill="#231815" >3</text>
<line x1="602.1" y1="1637.5" x2="609.1" y2="1637.5" stroke="#0d0d0d" stroke-width="2.4" />
<text x="586.4" y="1650" font-size="31.3" text-anchor="end" fill="#231815" >4</text>
<line x1="602.1" y1="1583.1" x2="609.1" y2="1583.1" stroke="#0d0d0d" stroke-width="2.4" />
<text x="586.4" y="1595.6" font-size="31.3" text-anchor="end" fill="#231815" >5</text>
<text x="0" y="0" font-size="31.3" text-anchor="end" fill="#231815" transform="translate(550.5 1506) rotate(-90)">Total chlorophyll (mg/g FW)</text>
<line x1="748" y1="1611.4" x2="827.7" y2="1611.4" stroke="#231815" stroke-width="1.7" />
<polyline points="787.4,1611.4 787.4,1593 844.5,1593 844.5,1827.6" fill="none" stroke="#231815" stroke-width="1.7" stroke-linejoin="miter"/>
<line x1="834.5" y1="1827.6" x2="856.3" y2="1827.6" stroke="#231815" stroke-width="1.7" />
<text x="810.5" y="1595.4" font-size="26.5" font-weight="normal" text-anchor="middle" fill="#231815" transform="rotate(14 810.5 1579.9)">*</text>
<text x="823.4" y="1595.4" font-size="26.5" font-weight="normal" text-anchor="middle" fill="#231815" transform="rotate(14 823.4 1579.9)">*</text>
<line x1="883.2" y1="1611.4" x2="963.2" y2="1611.4" stroke="#231815" stroke-width="1.7" />
<polyline points="922.9,1611.4 922.9,1591.3 980.7,1591.3 980.7,1751" fill="none" stroke="#231815" stroke-width="1.7" stroke-linejoin="miter"/>
<line x1="969.9" y1="1751" x2="991.4" y2="1751" stroke="#231815" stroke-width="1.7" />
<text x="946.5" y="1593.6" font-size="26.5" font-weight="normal" text-anchor="middle" fill="#231815" transform="rotate(14 946.5 1578.1)">*</text>
<text x="959.4" y="1593.6" font-size="26.5" font-weight="normal" text-anchor="middle" fill="#231815" transform="rotate(14 959.4 1578.1)">*</text>
<text x="1075.5" y="1472" font-size="33" text-anchor="start" fill="#000" >G</text>
<rect x="1140.6" y="1604.4" width="13.3" height="248.5" fill="#174a70" stroke="#0d0d0d" stroke-width="2.5" />
<rect x="1153.9" y="1604.4" width="13.3" height="248.5" fill="#2a8cbd" stroke="#0d0d0d" stroke-width="2.5" />
<rect x="1167.2" y="1604.4" width="13.3" height="248.5" fill="#a6dce0" stroke="#0d0d0d" stroke-width="2.5" />
<rect x="1180.5" y="1604.4" width="13.3" height="248.5" fill="#e5812c" stroke="#0d0d0d" stroke-width="2.5" />
<rect x="1193.8" y="1604.4" width="13.3" height="248.5" fill="#e6d54f" stroke="#0d0d0d" stroke-width="2.5" />
<rect x="1207.1" y="1604.4" width="13.3" height="248.5" fill="#fbf07a" stroke="#0d0d0d" stroke-width="2.5" />
<rect x="1220.4" y="1604.4" width="13.3" height="248.5" fill="#000000" stroke="#0d0d0d" stroke-width="2.5" />
<rect x="1233.7" y="1604.4" width="13.3" height="248.5" fill="#ffffff" stroke="#0d0d0d" stroke-width="2.5" />
<line x1="1147.25" y1="1587.01" x2="1147.25" y2="1621.8" stroke="#0d0d0d" stroke-width="1.8" />
<line x1="1143.75" y1="1587.01" x2="1150.75" y2="1587.01" stroke="#0d0d0d" stroke-width="1.8" />
<line x1="1143.75" y1="1621.8" x2="1150.75" y2="1621.8" stroke="#0d0d0d" stroke-width="1.8" />
<line x1="1160.55" y1="1588.25" x2="1160.55" y2="1620.55" stroke="#0d0d0d" stroke-width="1.8" />
<line x1="1157.05" y1="1588.25" x2="1164.05" y2="1588.25" stroke="#0d0d0d" stroke-width="1.8" />
<line x1="1157.05" y1="1620.55" x2="1164.05" y2="1620.55" stroke="#0d0d0d" stroke-width="1.8" />
<line x1="1173.85" y1="1587.01" x2="1173.85" y2="1621.8" stroke="#0d0d0d" stroke-width="1.8" />
<line x1="1170.35" y1="1587.01" x2="1177.35" y2="1587.01" stroke="#0d0d0d" stroke-width="1.8" />
<line x1="1170.35" y1="1621.8" x2="1177.35" y2="1621.8" stroke="#0d0d0d" stroke-width="1.8" />
<line x1="1187.15" y1="1583.28" x2="1187.15" y2="1625.52" stroke="#0d0d0d" stroke-width="1.8" />
<line x1="1183.65" y1="1583.28" x2="1190.65" y2="1583.28" stroke="#0d0d0d" stroke-width="1.8" />
<line x1="1183.65" y1="1625.52" x2="1190.65" y2="1625.52" stroke="#0d0d0d" stroke-width="1.8" />
<line x1="1200.45" y1="1584.52" x2="1200.45" y2="1624.28" stroke="#0d0d0d" stroke-width="1.8" />
<line x1="1196.95" y1="1584.52" x2="1203.95" y2="1584.52" stroke="#0d0d0d" stroke-width="1.8" />
<line x1="1196.95" y1="1624.28" x2="1203.95" y2="1624.28" stroke="#0d0d0d" stroke-width="1.8" />
<line x1="1213.75" y1="1584.52" x2="1213.75" y2="1624.28" stroke="#0d0d0d" stroke-width="1.8" />
<line x1="1210.25" y1="1584.52" x2="1217.25" y2="1584.52" stroke="#0d0d0d" stroke-width="1.8" />
<line x1="1210.25" y1="1624.28" x2="1217.25" y2="1624.28" stroke="#0d0d0d" stroke-width="1.8" />
<line x1="1227.05" y1="1589.49" x2="1227.05" y2="1619.31" stroke="#0d0d0d" stroke-width="1.8" />
<line x1="1223.55" y1="1589.49" x2="1230.55" y2="1589.49" stroke="#0d0d0d" stroke-width="1.8" />
<line x1="1223.55" y1="1619.31" x2="1230.55" y2="1619.31" stroke="#0d0d0d" stroke-width="1.8" />
<line x1="1240.35" y1="1590.73" x2="1240.35" y2="1618.07" stroke="#0d0d0d" stroke-width="1.8" />
<line x1="1236.85" y1="1590.73" x2="1243.85" y2="1590.73" stroke="#0d0d0d" stroke-width="1.8" />
<line x1="1236.85" y1="1618.07" x2="1243.85" y2="1618.07" stroke="#0d0d0d" stroke-width="1.8" />
<rect x="1274.6" y="1707.53" width="13.3" height="145.37" fill="#174a70" stroke="#0d0d0d" stroke-width="2.5" />
<rect x="1287.9" y="1721.2" width="13.3" height="131.7" fill="#2a8cbd" stroke="#0d0d0d" stroke-width="2.5" />
<rect x="1301.2" y="1722.44" width="13.3" height="130.46" fill="#a6dce0" stroke="#0d0d0d" stroke-width="2.5" />
<rect x="1314.5" y="1673.98" width="13.3" height="178.92" fill="#e5812c" stroke="#0d0d0d" stroke-width="2.5" />
<rect x="1327.8" y="1718.71" width="13.3" height="134.19" fill="#e6d54f" stroke="#0d0d0d" stroke-width="2.5" />
<rect x="1341.1" y="1721.2" width="13.3" height="131.7" fill="#fbf07a" stroke="#0d0d0d" stroke-width="2.5" />
<rect x="1354.4" y="1825.57" width="13.3" height="27.34" fill="#000000" stroke="#0d0d0d" stroke-width="2.5" />
<rect x="1367.7" y="1829.29" width="13.3" height="23.61" fill="#ffffff" stroke="#0d0d0d" stroke-width="2.5" />
<line x1="1281.25" y1="1692.62" x2="1281.25" y2="1722.44" stroke="#0d0d0d" stroke-width="1.8" />
<line x1="1277.75" y1="1692.62" x2="1284.75" y2="1692.62" stroke="#0d0d0d" stroke-width="1.8" />
<line x1="1277.75" y1="1722.44" x2="1284.75" y2="1722.44" stroke="#0d0d0d" stroke-width="1.8" />
<line x1="1294.55" y1="1708.77" x2="1294.55" y2="1733.62" stroke="#0d0d0d" stroke-width="1.8" />
<line x1="1291.05" y1="1708.77" x2="1298.05" y2="1708.77" stroke="#0d0d0d" stroke-width="1.8" />
<line x1="1291.05" y1="1733.62" x2="1298.05" y2="1733.62" stroke="#0d0d0d" stroke-width="1.8" />
<line x1="1307.85" y1="1707.53" x2="1307.85" y2="1737.35" stroke="#0d0d0d" stroke-width="1.8" />
<line x1="1304.35" y1="1707.53" x2="1311.35" y2="1707.53" stroke="#0d0d0d" stroke-width="1.8" />
<line x1="1304.35" y1="1737.35" x2="1311.35" y2="1737.35" stroke="#0d0d0d" stroke-width="1.8" />
<line x1="1321.15" y1="1657.83" x2="1321.15" y2="1690.13" stroke="#0d0d0d" stroke-width="1.8" />
<line x1="1317.65" y1="1657.83" x2="1324.65" y2="1657.83" stroke="#0d0d0d" stroke-width="1.8" />
<line x1="1317.65" y1="1690.13" x2="1324.65" y2="1690.13" stroke="#0d0d0d" stroke-width="1.8" />
<line x1="1334.45" y1="1710.01" x2="1334.45" y2="1727.41" stroke="#0d0d0d" stroke-width="1.8" />
<line x1="1330.95" y1="1710.01" x2="1337.95" y2="1710.01" stroke="#0d0d0d" stroke-width="1.8" />
<line x1="1330.95" y1="1727.41" x2="1337.95" y2="1727.41" stroke="#0d0d0d" stroke-width="1.8" />
<line x1="1347.75" y1="1705.04" x2="1347.75" y2="1737.35" stroke="#0d0d0d" stroke-width="1.8" />
<line x1="1344.25" y1="1705.04" x2="1351.25" y2="1705.04" stroke="#0d0d0d" stroke-width="1.8" />
<line x1="1344.25" y1="1737.35" x2="1351.25" y2="1737.35" stroke="#0d0d0d" stroke-width="1.8" />
<line x1="1361.05" y1="1818.11" x2="1361.05" y2="1833.02" stroke="#0d0d0d" stroke-width="1.8" />
<line x1="1357.55" y1="1818.11" x2="1364.55" y2="1818.11" stroke="#0d0d0d" stroke-width="1.8" />
<line x1="1357.55" y1="1833.02" x2="1364.55" y2="1833.02" stroke="#0d0d0d" stroke-width="1.8" />
<line x1="1374.35" y1="1824.32" x2="1374.35" y2="1834.26" stroke="#0d0d0d" stroke-width="1.8" />
<line x1="1370.85" y1="1824.32" x2="1377.85" y2="1824.32" stroke="#0d0d0d" stroke-width="1.8" />
<line x1="1370.85" y1="1834.26" x2="1377.85" y2="1834.26" stroke="#0d0d0d" stroke-width="1.8" />
<rect x="1408.3" y="1682.68" width="13.3" height="170.22" fill="#174a70" stroke="#0d0d0d" stroke-width="2.5" />
<rect x="1421.6" y="1690.13" width="13.3" height="162.77" fill="#2a8cbd" stroke="#0d0d0d" stroke-width="2.5" />
<rect x="1434.9" y="1697.59" width="13.3" height="155.31" fill="#a6dce0" stroke="#0d0d0d" stroke-width="2.5" />
<rect x="1448.2" y="1655.34" width="13.3" height="197.56" fill="#e5812c" stroke="#0d0d0d" stroke-width="2.5" />
<rect x="1461.5" y="1693.86" width="13.3" height="159.04" fill="#e6d54f" stroke="#0d0d0d" stroke-width="2.5" />
<rect x="1474.8" y="1695.1" width="13.3" height="157.8" fill="#fbf07a" stroke="#0d0d0d" stroke-width="2.5" />
<rect x="1488.1" y="1789.53" width="13.3" height="63.37" fill="#000000" stroke="#0d0d0d" stroke-width="2.5" />
<rect x="1501.4" y="1783.32" width="13.3" height="69.58" fill="#ffffff" stroke="#0d0d0d" stroke-width="2.5" />
<line x1="1414.95" y1="1670.25" x2="1414.95" y2="1695.1" stroke="#0d0d0d" stroke-width="1.8" />
<line x1="1411.45" y1="1670.25" x2="1418.45" y2="1670.25" stroke="#0d0d0d" stroke-width="1.8" />
<line x1="1411.45" y1="1695.1" x2="1418.45" y2="1695.1" stroke="#0d0d0d" stroke-width="1.8" />
<line x1="1428.25" y1="1681.44" x2="1428.25" y2="1698.83" stroke="#0d0d0d" stroke-width="1.8" />
<line x1="1424.75" y1="1681.44" x2="1431.75" y2="1681.44" stroke="#0d0d0d" stroke-width="1.8" />
<line x1="1424.75" y1="1698.83" x2="1431.75" y2="1698.83" stroke="#0d0d0d" stroke-width="1.8" />
<line x1="1441.55" y1="1682.68" x2="1441.55" y2="1712.5" stroke="#0d0d0d" stroke-width="1.8" />
<line x1="1438.05" y1="1682.68" x2="1445.05" y2="1682.68" stroke="#0d0d0d" stroke-width="1.8" />
<line x1="1438.05" y1="1712.5" x2="1445.05" y2="1712.5" stroke="#0d0d0d" stroke-width="1.8" />
<line x1="1454.85" y1="1636.71" x2="1454.85" y2="1673.98" stroke="#0d0d0d" stroke-width="1.8" />
<line x1="1451.35" y1="1636.71" x2="1458.35" y2="1636.71" stroke="#0d0d0d" stroke-width="1.8" />
<line x1="1451.35" y1="1673.98" x2="1458.35" y2="1673.98" stroke="#0d0d0d" stroke-width="1.8" />
<line x1="1468.15" y1="1681.44" x2="1468.15" y2="1706.29" stroke="#0d0d0d" stroke-width="1.8" />
<line x1="1464.65" y1="1681.44" x2="1471.65" y2="1681.44" stroke="#0d0d0d" stroke-width="1.8" />
<line x1="1464.65" y1="1706.29" x2="1471.65" y2="1706.29" stroke="#0d0d0d" stroke-width="1.8" />
<line x1="1481.45" y1="1680.19" x2="1481.45" y2="1710.01" stroke="#0d0d0d" stroke-width="1.8" />
<line x1="1477.95" y1="1680.19" x2="1484.95" y2="1680.19" stroke="#0d0d0d" stroke-width="1.8" />
<line x1="1477.95" y1="1710.01" x2="1484.95" y2="1710.01" stroke="#0d0d0d" stroke-width="1.8" />
<line x1="1494.75" y1="1784.56" x2="1494.75" y2="1794.5" stroke="#0d0d0d" stroke-width="1.8" />
<line x1="1491.25" y1="1784.56" x2="1498.25" y2="1784.56" stroke="#0d0d0d" stroke-width="1.8" />
<line x1="1491.25" y1="1794.5" x2="1498.25" y2="1794.5" stroke="#0d0d0d" stroke-width="1.8" />
<line x1="1508.05" y1="1777.11" x2="1508.05" y2="1789.53" stroke="#0d0d0d" stroke-width="1.8" />
<line x1="1504.55" y1="1777.11" x2="1511.55" y2="1777.11" stroke="#0d0d0d" stroke-width="1.8" />
<line x1="1504.55" y1="1789.53" x2="1511.55" y2="1789.53" stroke="#0d0d0d" stroke-width="1.8" />
<line x1="1127.2" y1="1553.5" x2="1127.2" y2="1854.1" stroke="#0d0d0d" stroke-width="2.5" />
<line x1="1126" y1="1852.9" x2="1528.6" y2="1852.9" stroke="#0d0d0d" stroke-width="2.6" />
<line x1="1193.8" y1="1852.9" x2="1193.8" y2="1859.9" stroke="#0d0d0d" stroke-width="2.4" />
<text x="1194.3" y="1893.4" font-size="31.3" text-anchor="middle" fill="#231815" >CK</text>
<line x1="1327.8" y1="1852.9" x2="1327.8" y2="1859.9" stroke="#0d0d0d" stroke-width="2.4" />
<text x="1328.3" y="1893.4" font-size="31.3" text-anchor="middle" fill="#231815" >NaCl</text>
<line x1="1461.5" y1="1852.9" x2="1461.5" y2="1859.9" stroke="#0d0d0d" stroke-width="2.4" />
<text x="1462" y="1893.4" font-size="31.3" text-anchor="middle" fill="#231815" >Mannitol</text>
<line x1="1127.2" y1="1852.9" x2="1134.2" y2="1852.9" stroke="#0d0d0d" stroke-width="2.4" />
<text x="1117.6" y="1868.2" font-size="31.3" text-anchor="end" fill="#231815" >0</text>
<line x1="1127.2" y1="1803.2" x2="1134.2" y2="1803.2" stroke="#0d0d0d" stroke-width="2.4" />
<text x="1117.6" y="1818.5" font-size="31.3" text-anchor="end" fill="#231815" >0.2</text>
<line x1="1127.2" y1="1753.5" x2="1134.2" y2="1753.5" stroke="#0d0d0d" stroke-width="2.4" />
<text x="1117.6" y="1768.8" font-size="31.3" text-anchor="end" fill="#231815" >0.4</text>
<line x1="1127.2" y1="1703.8" x2="1134.2" y2="1703.8" stroke="#0d0d0d" stroke-width="2.4" />
<text x="1117.6" y="1719.1" font-size="31.3" text-anchor="end" fill="#231815" >0.6</text>
<line x1="1127.2" y1="1654.1" x2="1134.2" y2="1654.1" stroke="#0d0d0d" stroke-width="2.4" />
<text x="1117.6" y="1669.4" font-size="31.3" text-anchor="end" fill="#231815" >0.8</text>
<line x1="1127.2" y1="1604.4" x2="1134.2" y2="1604.4" stroke="#0d0d0d" stroke-width="2.4" />
<text x="1117.6" y="1619.7" font-size="31.3" text-anchor="end" fill="#231815" >1.0</text>
<line x1="1127.2" y1="1554.7" x2="1134.2" y2="1554.7" stroke="#0d0d0d" stroke-width="2.4" />
<text x="1117.6" y="1570" font-size="31.3" text-anchor="end" fill="#231815" >1.2</text>
<text x="0" y="0" font-size="31.3" text-anchor="end" fill="#000" transform="translate(1029.5 1658) rotate(-90)">Relative</text>
<text x="0" y="0" font-size="30.95" text-anchor="end" fill="#000" transform="translate(1066.9 1506.6) rotate(-90)">Chlorophyll a / Chlorophyll b</text>
<line x1="1274" y1="1646.9" x2="1354.7" y2="1646.9" stroke="#231815" stroke-width="1.7" />
<polyline points="1314,1646.9 1314,1628.1 1372,1628.1 1372,1798.9" fill="none" stroke="#231815" stroke-width="1.7" stroke-linejoin="miter"/>
<line x1="1360.7" y1="1798.9" x2="1383" y2="1798.9" stroke="#231815" stroke-width="1.7" />
<text x="1335" y="1631.5" font-size="26.5" font-weight="normal" text-anchor="middle" fill="#231815" transform="rotate(14 1335 1616)">*</text>
<text x="1347.9" y="1631.5" font-size="26.5" font-weight="normal" text-anchor="middle" fill="#231815" transform="rotate(14 1347.9 1616)">*</text>
<line x1="1408.4" y1="1629.9" x2="1488.7" y2="1629.9" stroke="#231815" stroke-width="1.7" />
<polyline points="1448.4,1629.9 1448.4,1610.8 1505.7,1610.8 1505.7,1759.3" fill="none" stroke="#231815" stroke-width="1.7" stroke-linejoin="miter"/>
<line x1="1495" y1="1759.3" x2="1517" y2="1759.3" stroke="#231815" stroke-width="1.7" />
<text x="1471.5" y="1613.4" font-size="26.5" font-weight="normal" text-anchor="middle" fill="#231815" transform="rotate(14 1471.5 1597.9)">*</text>
<text x="1484.4" y="1613.4" font-size="26.5" font-weight="normal" text-anchor="middle" fill="#231815" transform="rotate(14 1484.4 1597.9)">*</text>
<rect x="98.35" y="1950.25" width="23.9" height="21.3" fill="#174a70" stroke="#0d0d0d" stroke-width="2.3" rx="1.5"/>
<text x="129.9" y="1971.4" font-size="31.0" text-anchor="start" font-style="italic" fill="#231815" >35S::PpDHNA:eGFP</text>
<rect x="98.35" y="1989.45" width="23.9" height="21.2" fill="#2a8cbd" stroke="#0d0d0d" stroke-width="2.3" rx="1.5"/>
<text x="129.5" y="2010.9" font-size="31.3" text-anchor="start" font-style="italic" fill="#231815" >pLEA<tspan font-size="27.6" textLength="214.9" lengthAdjust="spacing">::PpDHNA:eGFP</tspan></text>
<rect x="98.35" y="2027.75" width="23.9" height="21.3" fill="#a6dce0" stroke="#0d0d0d" stroke-width="2.3" rx="1.5"/>
<text x="129.5" y="2049.4" font-size="31.3" text-anchor="start" font-style="italic" fill="#231815" >pLEA<tspan font-size="28.0" textLength="128" lengthAdjust="spacing">::PpDHNA</tspan></text>
<rect x="98.35" y="2067.35" width="23.9" height="22.3" fill="#000000" stroke="#0d0d0d" stroke-width="2.3" rx="1.5"/>
<text x="128.6" y="2088.9" font-size="31.3" text-anchor="start" fill="#231815" >WT</text>
<rect x="482.65" y="1950.25" width="23.9" height="21.3" fill="#e5812c" stroke="#0d0d0d" stroke-width="2.3" rx="1.5"/>
<text x="520.9" y="1971.4" font-size="31.0" text-anchor="start" font-style="italic" fill="#231815" >35S::PpDHNC:eGFP</text>
<rect x="482.65" y="1989.45" width="23.9" height="21.2" fill="#e6d54f" stroke="#0d0d0d" stroke-width="2.3" rx="1.5"/>
<text x="518.3" y="2010.9" font-size="31.3" text-anchor="start" font-style="italic" fill="#231815" >pLEA<tspan font-size="27.8" textLength="216.7" lengthAdjust="spacing">::PpDHNC:eGFP</tspan></text>
<rect x="482.65" y="2027.75" width="23.9" height="21.3" fill="#fbf07a" stroke="#0d0d0d" stroke-width="2.3" rx="1.5"/>
<text x="519.3" y="2049.4" font-size="31.3" text-anchor="start" font-style="italic" fill="#231815" >pLEA<tspan font-size="29.0" textLength="123.8" lengthAdjust="spacing">::PpDHNC</tspan></text>
<rect x="482.65" y="2067.35" width="23.9" height="22.3" fill="#ffffff" stroke="#0d0d0d" stroke-width="2.3" rx="1.5"/>
<text x="516.5" y="2088.9" font-size="31.3" text-anchor="start" fill="#231815" >Vector</text>
<line x1="968.2" y1="1960.4" x2="1053.1" y2="1960.4" stroke="#000000" stroke-width="2.5" stroke-linecap="round"/>
<rect x="1002.2" y="1952.1" width="17" height="17.5" rx="1.5" fill="#000000"/>
<text x="1068.5" y="1971" font-size="31.3" text-anchor="start" fill="#231815" >WT</text>
<line x1="968.2" y1="2000.1" x2="1053.1" y2="2000.1" stroke="#c0c0c0" stroke-width="2.5" stroke-linecap="round"/>
<circle cx="1010.6" cy="2000.1" r="8.3" fill="#c0c0c0"/>
<text x="1068.5" y="2010.8" font-size="31.3" text-anchor="start" fill="#231815" >Vector</text>
<line x1="968.2" y1="2041.1" x2="1053.1" y2="2041.1" stroke="#163f6c" stroke-width="2.5" stroke-linecap="round"/>
<polygon points="1010.6,2030.7 1020.6,2047.4 1000.7,2047.4" fill="#163f6c" stroke="#163f6c" stroke-width="1" stroke-linejoin="round"/>
<text x="1069.8" y="2051.3" font-size="31.1" text-anchor="start" font-style="italic" fill="#231815" >35S::PpDHNA:eGFP</text>
<line x1="968.2" y1="2078.5" x2="1053.1" y2="2078.5" stroke="#e07b25" stroke-width="2.5" stroke-linecap="round"/>
<polygon points="1010.6,2068.5 1020.6,2078.9 1010.6,2089.3 1000.7,2078.9" fill="#e07b25"/>
<text x="1069.8" y="2089.6" font-size="31.1" text-anchor="start" font-style="italic" fill="#231815" >35S::PpDHNC:eGFP</text>
</svg></body></html>
